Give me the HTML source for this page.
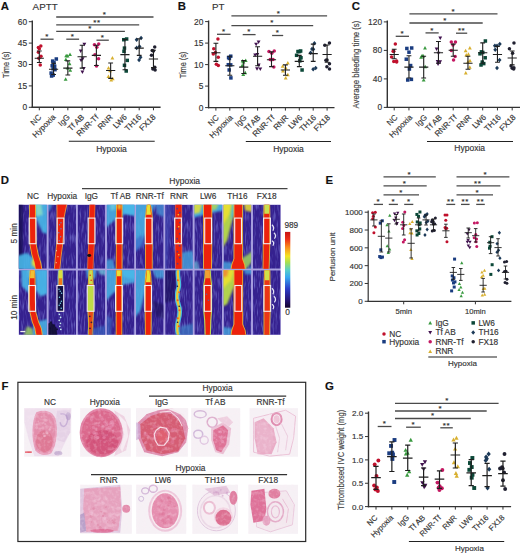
<!DOCTYPE html>
<html><head><meta charset="utf-8"><title>Figure</title>
<style>html,body{margin:0;padding:0;background:#fff;width:520px;height:554px;overflow:hidden}svg{display:block}text{stroke:#3a3a3a;stroke-width:0.16px}</style>
</head><body>
<svg width="520" height="554" viewBox="0 0 520 554" font-family='"Liberation Sans", sans-serif'>
<rect width="520" height="554" fill="#fff"/>
<text x="0.8" y="9.8" font-size="11.4" text-anchor="start" font-weight="bold" fill="#111" >A</text>
<text x="32.6" y="9.7" font-size="9.8" text-anchor="start" font-weight="normal" fill="#333" >APTT</text>
<path d="M32.3 20.5L32.3 108.0" stroke="#333" stroke-width="1.4"/>
<path d="M31.599999999999998 107.3L160.6 107.3" stroke="#333" stroke-width="1.4"/>
<path d="M28.799999999999997 107.3L32.3 107.3" stroke="#333" stroke-width="1"/>
<text x="27.099999999999998" y="110.2" font-size="8.4" text-anchor="end" font-weight="normal" fill="#333" >0</text>
<path d="M28.799999999999997 85.9L32.3 85.9" stroke="#333" stroke-width="1"/>
<text x="27.099999999999998" y="88.80000000000001" font-size="8.4" text-anchor="end" font-weight="normal" fill="#333" >15</text>
<path d="M28.799999999999997 64.5L32.3 64.5" stroke="#333" stroke-width="1"/>
<text x="27.099999999999998" y="67.4" font-size="8.4" text-anchor="end" font-weight="normal" fill="#333" >30</text>
<path d="M28.799999999999997 43.10000000000001L32.3 43.10000000000001" stroke="#333" stroke-width="1"/>
<text x="27.099999999999998" y="46.00000000000001" font-size="8.4" text-anchor="end" font-weight="normal" fill="#333" >45</text>
<path d="M28.799999999999997 21.700000000000003L32.3 21.700000000000003" stroke="#333" stroke-width="1"/>
<text x="27.099999999999998" y="24.6" font-size="8.4" text-anchor="end" font-weight="normal" fill="#333" >60</text>
<path d="M39.3 107.3L39.3 110.3" stroke="#333" stroke-width="1"/>
<path d="M53.56999999999999 107.3L53.56999999999999 110.3" stroke="#333" stroke-width="1"/>
<path d="M67.84 107.3L67.84 110.3" stroke="#333" stroke-width="1"/>
<path d="M82.11 107.3L82.11 110.3" stroke="#333" stroke-width="1"/>
<path d="M96.38 107.3L96.38 110.3" stroke="#333" stroke-width="1"/>
<path d="M110.64999999999999 107.3L110.64999999999999 110.3" stroke="#333" stroke-width="1"/>
<path d="M124.92 107.3L124.92 110.3" stroke="#333" stroke-width="1"/>
<path d="M139.19 107.3L139.19 110.3" stroke="#333" stroke-width="1"/>
<path d="M153.45999999999998 107.3L153.45999999999998 110.3" stroke="#333" stroke-width="1"/>
<text transform="translate(41.90,117.70) rotate(-45)" font-size="8" text-anchor="end" fill="#333">NC</text>
<text transform="translate(56.17,117.70) rotate(-45)" font-size="8" text-anchor="end" fill="#333">Hypoxia</text>
<text transform="translate(70.44,117.70) rotate(-45)" font-size="8" text-anchor="end" fill="#333">IgG</text>
<text transform="translate(84.71,117.70) rotate(-45)" font-size="8" text-anchor="end" fill="#333">Tf AB</text>
<text transform="translate(98.98,117.70) rotate(-45)" font-size="8" text-anchor="end" fill="#333">RNR-Tf</text>
<text transform="translate(113.25,117.70) rotate(-45)" font-size="8" text-anchor="end" fill="#333">RNR</text>
<text transform="translate(127.52,117.70) rotate(-45)" font-size="8" text-anchor="end" fill="#333">LW6</text>
<text transform="translate(141.79,117.70) rotate(-45)" font-size="8" text-anchor="end" fill="#333">TH16</text>
<text transform="translate(156.06,117.70) rotate(-45)" font-size="8" text-anchor="end" fill="#333">FX18</text>
<text transform="translate(9.3,64.7) rotate(-90)" font-size="9" text-anchor="middle" fill="#444" textLength="26.5" lengthAdjust="spacingAndGlyphs">Time (s)</text>
<path d="M56.2 17.0L153.5 17.0" stroke="#4a4a4a" stroke-width="1.3"/>
<text x="104.5" y="16.7" font-size="8" text-anchor="middle" fill="#222" letter-spacing="0.6">*</text>
<path d="M56.2 24.8L139.2 24.8" stroke="#4a4a4a" stroke-width="1.3"/>
<text x="97" y="24.5" font-size="8" text-anchor="middle" fill="#222" letter-spacing="0.6">**</text>
<path d="M56.2 31.3L124.9 31.3" stroke="#4a4a4a" stroke-width="1.3"/>
<text x="90" y="31.0" font-size="8" text-anchor="middle" fill="#222" letter-spacing="0.6">*</text>
<path d="M40.5 39.2L53.6 39.2" stroke="#4a4a4a" stroke-width="1.3"/>
<text x="47.05" y="38.900000000000006" font-size="8" text-anchor="middle" fill="#222" letter-spacing="0.6">*</text>
<path d="M66.3 39.2L79.1 39.2" stroke="#4a4a4a" stroke-width="1.3"/>
<text x="72.69999999999999" y="38.900000000000006" font-size="8" text-anchor="middle" fill="#222" letter-spacing="0.6">*</text>
<path d="M96.5 40.2L108.8 40.2" stroke="#4a4a4a" stroke-width="1.3"/>
<text x="102.65" y="39.900000000000006" font-size="8" text-anchor="middle" fill="#222" letter-spacing="0.6">*</text>
<circle cx="40.83" cy="46.00" r="1.75" fill="#c0102c"/>
<circle cx="38.38" cy="47.38" r="1.75" fill="#c0102c"/>
<circle cx="39.31" cy="48.87" r="1.75" fill="#c0102c"/>
<circle cx="38.43" cy="52.15" r="1.75" fill="#c0102c"/>
<circle cx="40.97" cy="56.18" r="1.75" fill="#c0102c"/>
<circle cx="38.78" cy="58.37" r="1.75" fill="#c0102c"/>
<circle cx="40.28" cy="65.00" r="1.75" fill="#c0102c"/>
<path d="M39.30 51.00V62.50M36.90 51.00H41.70M36.90 62.50H41.70M34.70 58.20H43.90" stroke="#1e1e1e" stroke-width="1.1" fill="none"/>
<rect x="54.57" y="57.25" width="3.50" height="3.50" fill="#1a3c80"/>
<rect x="50.93" y="59.35" width="3.50" height="3.50" fill="#1a3c80"/>
<rect x="52.25" y="61.05" width="3.50" height="3.50" fill="#1a3c80"/>
<rect x="50.44" y="63.99" width="3.50" height="3.50" fill="#1a3c80"/>
<rect x="52.91" y="64.47" width="3.50" height="3.50" fill="#1a3c80"/>
<rect x="51.36" y="67.06" width="3.50" height="3.50" fill="#1a3c80"/>
<rect x="53.24" y="67.92" width="3.50" height="3.50" fill="#1a3c80"/>
<rect x="49.39" y="71.31" width="3.50" height="3.50" fill="#1a3c80"/>
<rect x="51.44" y="73.36" width="3.50" height="3.50" fill="#1a3c80"/>
<rect x="49.86" y="74.25" width="3.50" height="3.50" fill="#1a3c80"/>
<path d="M53.57 63.20V74.50M51.17 63.20H55.97M51.17 74.50H55.97M48.97 69.20H58.17" stroke="#1e1e1e" stroke-width="1.1" fill="none"/>
<path d="M70.00 52.39L71.93 55.89L68.08 55.89Z" fill="#3a9a40"/>
<path d="M66.18 53.87L68.11 57.37L64.26 57.37Z" fill="#3a9a40"/>
<path d="M67.62 53.95L69.54 57.45L65.69 57.45Z" fill="#3a9a40"/>
<path d="M65.87 57.52L67.79 61.02L63.94 61.02Z" fill="#3a9a40"/>
<path d="M69.55 61.66L71.47 65.16L67.62 65.16Z" fill="#3a9a40"/>
<path d="M67.60 66.03L69.52 69.53L65.67 69.53Z" fill="#3a9a40"/>
<path d="M70.23 68.30L72.15 71.80L68.30 71.80Z" fill="#3a9a40"/>
<path d="M65.64 77.29L67.57 80.79L63.72 80.79Z" fill="#3a9a40"/>
<path d="M67.84 60.90V75.00M65.44 60.90H70.24M65.44 75.00H70.24M63.24 68.10H72.44" stroke="#1e1e1e" stroke-width="1.1" fill="none"/>
<path d="M84.37 46.31L86.29 42.81L82.44 42.81Z" fill="#40124e"/>
<path d="M80.73 53.05L82.66 49.55L78.81 49.55Z" fill="#40124e"/>
<path d="M82.69 60.81L84.61 57.31L80.76 57.31Z" fill="#40124e"/>
<path d="M81.07 62.17L83.00 58.67L79.15 58.67Z" fill="#40124e"/>
<path d="M83.75 70.47L85.67 66.97L81.82 66.97Z" fill="#40124e"/>
<path d="M82.42 73.91L84.34 70.41L80.49 70.41Z" fill="#40124e"/>
<path d="M82.11 45.30V68.10M79.71 45.30H84.51M79.71 68.10H84.51M77.51 56.80H86.71" stroke="#1e1e1e" stroke-width="1.1" fill="none"/>
<circle cx="98.71" cy="44.00" r="1.75" fill="#c41862"/>
<circle cx="94.43" cy="44.86" r="1.75" fill="#c41862"/>
<circle cx="96.83" cy="47.34" r="1.75" fill="#c41862"/>
<circle cx="94.95" cy="54.76" r="1.75" fill="#c41862"/>
<circle cx="98.57" cy="58.70" r="1.75" fill="#c41862"/>
<circle cx="96.49" cy="66.00" r="1.75" fill="#c41862"/>
<path d="M96.38 45.30V65.50M93.98 45.30H98.78M93.98 65.50H98.78M91.78 55.40H100.98" stroke="#1e1e1e" stroke-width="1.1" fill="none"/>
<path d="M112.40 55.99L114.32 59.49L110.47 59.49Z" fill="#d8b030"/>
<path d="M108.52 66.02L110.45 69.52L106.60 69.52Z" fill="#d8b030"/>
<path d="M110.12 68.75L112.05 72.25L108.20 72.25Z" fill="#d8b030"/>
<path d="M108.45 74.47L110.37 77.97L106.52 77.97Z" fill="#d8b030"/>
<path d="M112.74 76.77L114.67 80.27L110.82 80.27Z" fill="#d8b030"/>
<path d="M111.24 77.99L113.17 81.49L109.32 81.49Z" fill="#d8b030"/>
<path d="M110.65 63.00V78.40M108.25 63.00H113.05M108.25 78.40H113.05M106.05 70.50H115.25" stroke="#1e1e1e" stroke-width="1.1" fill="none"/>
<rect x="124.89" y="37.25" width="3.50" height="3.50" fill="#0c4838"/>
<rect x="122.03" y="37.97" width="3.50" height="3.50" fill="#0c4838"/>
<rect x="122.71" y="46.36" width="3.50" height="3.50" fill="#0c4838"/>
<rect x="122.25" y="49.60" width="3.50" height="3.50" fill="#0c4838"/>
<rect x="125.51" y="58.65" width="3.50" height="3.50" fill="#0c4838"/>
<rect x="122.73" y="63.55" width="3.50" height="3.50" fill="#0c4838"/>
<rect x="124.47" y="69.25" width="3.50" height="3.50" fill="#0c4838"/>
<path d="M124.92 39.50V69.80M122.52 39.50H127.32M122.52 69.80H127.32M120.32 54.60H129.52" stroke="#1e1e1e" stroke-width="1.1" fill="none"/>
<path d="M141.09 35.73L143.01 38.00L141.09 40.27L139.16 38.00Z" fill="#1c3a58"/>
<path d="M136.62 37.50L138.55 39.77L136.62 42.05L134.70 39.77Z" fill="#1c3a58"/>
<path d="M139.57 44.33L141.50 46.60L139.57 48.88L137.65 46.60Z" fill="#1c3a58"/>
<path d="M136.66 45.61L138.59 47.88L136.66 50.16L134.74 47.88Z" fill="#1c3a58"/>
<path d="M140.55 54.90L142.47 57.17L140.55 59.45L138.62 57.17Z" fill="#1c3a58"/>
<path d="M139.09 57.73L141.01 60.00L139.09 62.27L137.16 60.00Z" fill="#1c3a58"/>
<path d="M139.19 38.80V55.40M136.79 38.80H141.59M136.79 55.40H141.59M134.59 48.10H143.79" stroke="#1e1e1e" stroke-width="1.1" fill="none"/>
<circle cx="154.72" cy="47.00" r="1.75" fill="#202030"/>
<circle cx="152.19" cy="50.47" r="1.75" fill="#202030"/>
<circle cx="153.44" cy="51.05" r="1.75" fill="#202030"/>
<circle cx="151.48" cy="55.25" r="1.75" fill="#202030"/>
<circle cx="154.79" cy="67.34" r="1.75" fill="#202030"/>
<circle cx="152.86" cy="69.03" r="1.75" fill="#202030"/>
<circle cx="155.10" cy="70.00" r="1.75" fill="#202030"/>
<path d="M153.46 50.30V67.60M151.06 50.30H155.86M151.06 67.60H155.86M148.86 59.00H158.06" stroke="#1e1e1e" stroke-width="1.1" fill="none"/>
<path d="M68.8 141.3L154.7 141.3" stroke="#222" stroke-width="1.1"/>
<text x="111.5" y="151.8" font-size="8.5" text-anchor="middle" font-weight="normal" fill="#333" >Hypoxia</text>
<text x="177.8" y="9.6" font-size="11.4" text-anchor="start" font-weight="bold" fill="#111" >B</text>
<text x="212.0" y="9.7" font-size="9.8" text-anchor="start" font-weight="normal" fill="#333" >PT</text>
<path d="M208.6 20.5L208.6 108.3" stroke="#333" stroke-width="1.4"/>
<path d="M207.9 107.6L334.5 107.6" stroke="#333" stroke-width="1.4"/>
<path d="M205.1 107.6L208.6 107.6" stroke="#333" stroke-width="1"/>
<text x="203.4" y="110.5" font-size="8.4" text-anchor="end" font-weight="normal" fill="#333" >0</text>
<path d="M205.1 86.1L208.6 86.1" stroke="#333" stroke-width="1"/>
<text x="203.4" y="89.0" font-size="8.4" text-anchor="end" font-weight="normal" fill="#333" >5</text>
<path d="M205.1 64.6L208.6 64.6" stroke="#333" stroke-width="1"/>
<text x="203.4" y="67.5" font-size="8.4" text-anchor="end" font-weight="normal" fill="#333" >10</text>
<path d="M205.1 43.099999999999994L208.6 43.099999999999994" stroke="#333" stroke-width="1"/>
<text x="203.4" y="45.99999999999999" font-size="8.4" text-anchor="end" font-weight="normal" fill="#333" >15</text>
<path d="M205.1 21.599999999999994L208.6 21.599999999999994" stroke="#333" stroke-width="1"/>
<text x="203.4" y="24.499999999999993" font-size="8.4" text-anchor="end" font-weight="normal" fill="#333" >20</text>
<path d="M215.9 107.6L215.9 110.6" stroke="#333" stroke-width="1"/>
<path d="M229.8 107.6L229.8 110.6" stroke="#333" stroke-width="1"/>
<path d="M243.70000000000002 107.6L243.70000000000002 110.6" stroke="#333" stroke-width="1"/>
<path d="M257.6 107.6L257.6 110.6" stroke="#333" stroke-width="1"/>
<path d="M271.5 107.6L271.5 110.6" stroke="#333" stroke-width="1"/>
<path d="M285.4 107.6L285.4 110.6" stroke="#333" stroke-width="1"/>
<path d="M299.3 107.6L299.3 110.6" stroke="#333" stroke-width="1"/>
<path d="M313.2 107.6L313.2 110.6" stroke="#333" stroke-width="1"/>
<path d="M327.1 107.6L327.1 110.6" stroke="#333" stroke-width="1"/>
<text transform="translate(219.40,118.20) rotate(-45)" font-size="8" text-anchor="end" fill="#333">NC</text>
<text transform="translate(233.30,118.20) rotate(-45)" font-size="8" text-anchor="end" fill="#333">Hypoxia</text>
<text transform="translate(247.20,118.20) rotate(-45)" font-size="8" text-anchor="end" fill="#333">IgG</text>
<text transform="translate(261.10,118.20) rotate(-45)" font-size="8" text-anchor="end" fill="#333">Tf AB</text>
<text transform="translate(275.00,118.20) rotate(-45)" font-size="8" text-anchor="end" fill="#333">RNR-Tf</text>
<text transform="translate(288.90,118.20) rotate(-45)" font-size="8" text-anchor="end" fill="#333">RNR</text>
<text transform="translate(302.80,118.20) rotate(-45)" font-size="8" text-anchor="end" fill="#333">LW6</text>
<text transform="translate(316.70,118.20) rotate(-45)" font-size="8" text-anchor="end" fill="#333">TH16</text>
<text transform="translate(330.60,118.20) rotate(-45)" font-size="8" text-anchor="end" fill="#333">FX18</text>
<text transform="translate(186.3,65) rotate(-90)" font-size="9" text-anchor="middle" fill="#444" textLength="26.5" lengthAdjust="spacingAndGlyphs">Time (s)</text>
<path d="M231.4 15.9L327.1 15.9" stroke="#4a4a4a" stroke-width="1.3"/>
<text x="278.5" y="15.6" font-size="8" text-anchor="middle" fill="#222" letter-spacing="0.6">*</text>
<path d="M231.4 25.6L313.2 25.6" stroke="#4a4a4a" stroke-width="1.3"/>
<text x="272.1" y="25.3" font-size="8" text-anchor="middle" fill="#222" letter-spacing="0.6">*</text>
<path d="M217 34.3L230.6 34.3" stroke="#4a4a4a" stroke-width="1.3"/>
<text x="223.8" y="34.0" font-size="8" text-anchor="middle" fill="#222" letter-spacing="0.6">*</text>
<path d="M242.7 34.6L255.6 34.6" stroke="#4a4a4a" stroke-width="1.3"/>
<text x="249.14999999999998" y="34.300000000000004" font-size="8" text-anchor="middle" fill="#222" letter-spacing="0.6">*</text>
<path d="M272.1 35.5L283.2 35.5" stroke="#4a4a4a" stroke-width="1.3"/>
<text x="277.65" y="35.2" font-size="8" text-anchor="middle" fill="#222" letter-spacing="0.6">*</text>
<circle cx="217.94" cy="38.90" r="1.75" fill="#c0102c"/>
<circle cx="213.75" cy="48.69" r="1.75" fill="#c0102c"/>
<circle cx="215.36" cy="52.56" r="1.75" fill="#c0102c"/>
<circle cx="213.30" cy="53.91" r="1.75" fill="#c0102c"/>
<circle cx="218.26" cy="57.20" r="1.75" fill="#c0102c"/>
<circle cx="216.35" cy="64.16" r="1.75" fill="#c0102c"/>
<circle cx="218.30" cy="65.40" r="1.75" fill="#c0102c"/>
<path d="M215.90 43.30V61.40M213.50 43.30H218.30M213.50 61.40H218.30M211.30 52.80H220.50" stroke="#1e1e1e" stroke-width="1.1" fill="none"/>
<rect x="228.98" y="54.45" width="3.50" height="3.50" fill="#1a3c80"/>
<rect x="226.83" y="55.80" width="3.50" height="3.50" fill="#1a3c80"/>
<rect x="227.64" y="56.70" width="3.50" height="3.50" fill="#1a3c80"/>
<rect x="226.57" y="62.96" width="3.50" height="3.50" fill="#1a3c80"/>
<rect x="228.96" y="63.11" width="3.50" height="3.50" fill="#1a3c80"/>
<rect x="227.45" y="68.21" width="3.50" height="3.50" fill="#1a3c80"/>
<rect x="229.15" y="76.15" width="3.50" height="3.50" fill="#1a3c80"/>
<path d="M229.80 56.20V75.30M227.40 56.20H232.20M227.40 75.30H232.20M225.20 65.70H234.40" stroke="#1e1e1e" stroke-width="1.1" fill="none"/>
<path d="M245.73 58.59L247.65 62.09L243.80 62.09Z" fill="#3a9a40"/>
<path d="M242.60 58.94L244.53 62.44L240.68 62.44Z" fill="#3a9a40"/>
<path d="M243.40 59.99L245.33 63.49L241.48 63.49Z" fill="#3a9a40"/>
<path d="M242.21 63.61L244.13 67.11L240.28 67.11Z" fill="#3a9a40"/>
<path d="M245.23 70.65L247.15 74.15L243.30 74.15Z" fill="#3a9a40"/>
<path d="M243.25 72.39L245.17 75.89L241.32 75.89Z" fill="#3a9a40"/>
<path d="M243.70 60.60V73.50M241.30 60.60H246.10M241.30 73.50H246.10M239.10 67.10H248.30" stroke="#1e1e1e" stroke-width="1.1" fill="none"/>
<path d="M258.60 44.01L260.53 40.51L256.68 40.51Z" fill="#40124e"/>
<path d="M256.11 46.33L258.04 42.83L254.19 42.83Z" fill="#40124e"/>
<path d="M257.32 56.59L259.24 53.09L255.39 53.09Z" fill="#40124e"/>
<path d="M255.14 57.08L257.07 53.58L253.22 53.58Z" fill="#40124e"/>
<path d="M258.72 66.93L260.65 63.43L256.80 63.43Z" fill="#40124e"/>
<path d="M257.03 70.83L258.95 67.33L255.10 67.33Z" fill="#40124e"/>
<path d="M260.30 71.01L262.23 67.51L258.38 67.51Z" fill="#40124e"/>
<path d="M257.60 46.70V65.70M255.20 46.70H260.00M255.20 65.70H260.00M253.00 56.20H262.20" stroke="#1e1e1e" stroke-width="1.1" fill="none"/>
<circle cx="274.26" cy="51.00" r="1.75" fill="#c41862"/>
<circle cx="268.97" cy="51.43" r="1.75" fill="#c41862"/>
<circle cx="271.74" cy="53.35" r="1.75" fill="#c41862"/>
<circle cx="270.18" cy="59.45" r="1.75" fill="#c41862"/>
<circle cx="273.03" cy="59.45" r="1.75" fill="#c41862"/>
<circle cx="271.10" cy="59.69" r="1.75" fill="#c41862"/>
<circle cx="273.84" cy="67.00" r="1.75" fill="#c41862"/>
<path d="M271.50 51.90V66.60M269.10 51.90H273.90M269.10 66.60H273.90M266.90 59.70H276.10" stroke="#1e1e1e" stroke-width="1.1" fill="none"/>
<path d="M287.82 60.99L289.75 64.49L285.90 64.49Z" fill="#d8b030"/>
<path d="M282.63 64.33L284.56 67.83L280.71 67.83Z" fill="#d8b030"/>
<path d="M285.82 65.93L287.75 69.43L283.90 69.43Z" fill="#d8b030"/>
<path d="M282.99 68.98L284.91 72.48L281.06 72.48Z" fill="#d8b030"/>
<path d="M287.84 72.67L289.76 76.17L285.91 76.17Z" fill="#d8b030"/>
<path d="M285.69 75.99L287.61 79.49L283.76 79.49Z" fill="#d8b030"/>
<path d="M285.40 64.90V75.30M283.00 64.90H287.80M283.00 75.30H287.80M280.80 70.00H290.00" stroke="#1e1e1e" stroke-width="1.1" fill="none"/>
<rect x="298.91" y="49.25" width="3.50" height="3.50" fill="#0c4838"/>
<rect x="296.23" y="49.78" width="3.50" height="3.50" fill="#0c4838"/>
<rect x="297.78" y="49.80" width="3.50" height="3.50" fill="#0c4838"/>
<rect x="294.84" y="53.56" width="3.50" height="3.50" fill="#0c4838"/>
<rect x="299.24" y="56.01" width="3.50" height="3.50" fill="#0c4838"/>
<rect x="298.07" y="59.09" width="3.50" height="3.50" fill="#0c4838"/>
<rect x="300.33" y="68.25" width="3.50" height="3.50" fill="#0c4838"/>
<path d="M299.30 55.40V66.60M296.90 55.40H301.70M296.90 66.60H301.70M294.70 61.40H303.90" stroke="#1e1e1e" stroke-width="1.1" fill="none"/>
<path d="M314.39 41.02L316.32 43.30L314.39 45.57L312.47 43.30Z" fill="#1c3a58"/>
<path d="M311.99 46.73L313.92 49.01L311.99 51.28L310.07 49.01Z" fill="#1c3a58"/>
<path d="M313.35 46.90L315.27 49.18L313.35 51.45L311.42 49.18Z" fill="#1c3a58"/>
<path d="M310.60 50.47L312.52 52.74L310.60 55.02L308.67 52.74Z" fill="#1c3a58"/>
<path d="M315.68 65.76L317.61 68.03L315.68 70.31L313.76 68.03Z" fill="#1c3a58"/>
<path d="M313.18 66.92L315.10 69.20L313.18 71.48L311.25 69.20Z" fill="#1c3a58"/>
<path d="M313.20 44.10V61.40M310.80 44.10H315.60M310.80 61.40H315.60M308.60 53.60H317.80" stroke="#1e1e1e" stroke-width="1.1" fill="none"/>
<circle cx="329.46" cy="43.00" r="1.75" fill="#202030"/>
<circle cx="324.80" cy="45.20" r="1.75" fill="#202030"/>
<circle cx="327.07" cy="59.98" r="1.75" fill="#202030"/>
<circle cx="325.94" cy="60.18" r="1.75" fill="#202030"/>
<circle cx="329.48" cy="63.79" r="1.75" fill="#202030"/>
<circle cx="326.90" cy="66.65" r="1.75" fill="#202030"/>
<circle cx="329.50" cy="69.00" r="1.75" fill="#202030"/>
<path d="M327.10 45.00V62.30M324.70 45.00H329.50M324.70 62.30H329.50M322.50 54.50H331.70" stroke="#1e1e1e" stroke-width="1.1" fill="none"/>
<path d="M245.8 141.5L331 141.5" stroke="#222" stroke-width="1.1"/>
<text x="288.5" y="151.8" font-size="8.5" text-anchor="middle" font-weight="normal" fill="#333" >Hypoxia</text>
<text x="351.8" y="9.6" font-size="11.4" text-anchor="start" font-weight="bold" fill="#111" >C</text>
<path d="M387.3 20.5L387.3 108.10000000000001" stroke="#333" stroke-width="1.4"/>
<path d="M386.6 107.4L520 107.4" stroke="#333" stroke-width="1.4"/>
<path d="M383.8 107.4L387.3 107.4" stroke="#333" stroke-width="1"/>
<text x="382.1" y="110.30000000000001" font-size="8.4" text-anchor="end" font-weight="normal" fill="#333" >0</text>
<path d="M383.8 78.9L387.3 78.9" stroke="#333" stroke-width="1"/>
<text x="382.1" y="81.80000000000001" font-size="8.4" text-anchor="end" font-weight="normal" fill="#333" >40</text>
<path d="M383.8 50.400000000000006L387.3 50.400000000000006" stroke="#333" stroke-width="1"/>
<text x="382.1" y="53.300000000000004" font-size="8.4" text-anchor="end" font-weight="normal" fill="#333" >80</text>
<path d="M383.8 21.900000000000006L387.3 21.900000000000006" stroke="#333" stroke-width="1"/>
<text x="382.1" y="24.800000000000004" font-size="8.4" text-anchor="end" font-weight="normal" fill="#333" >120</text>
<path d="M394.2 107.4L394.2 110.4" stroke="#333" stroke-width="1"/>
<path d="M408.95 107.4L408.95 110.4" stroke="#333" stroke-width="1"/>
<path d="M423.7 107.4L423.7 110.4" stroke="#333" stroke-width="1"/>
<path d="M438.45 107.4L438.45 110.4" stroke="#333" stroke-width="1"/>
<path d="M453.2 107.4L453.2 110.4" stroke="#333" stroke-width="1"/>
<path d="M467.95 107.4L467.95 110.4" stroke="#333" stroke-width="1"/>
<path d="M482.7 107.4L482.7 110.4" stroke="#333" stroke-width="1"/>
<path d="M497.45 107.4L497.45 110.4" stroke="#333" stroke-width="1"/>
<path d="M512.2 107.4L512.2 110.4" stroke="#333" stroke-width="1"/>
<text transform="translate(398.20,117.90) rotate(-45)" font-size="8" text-anchor="end" fill="#333">NC</text>
<text transform="translate(412.95,117.90) rotate(-45)" font-size="8" text-anchor="end" fill="#333">Hypoxia</text>
<text transform="translate(427.70,117.90) rotate(-45)" font-size="8" text-anchor="end" fill="#333">IgG</text>
<text transform="translate(442.45,117.90) rotate(-45)" font-size="8" text-anchor="end" fill="#333">Tf AB</text>
<text transform="translate(457.20,117.90) rotate(-45)" font-size="8" text-anchor="end" fill="#333">RNR-Tf</text>
<text transform="translate(471.95,117.90) rotate(-45)" font-size="8" text-anchor="end" fill="#333">RNR</text>
<text transform="translate(486.70,117.90) rotate(-45)" font-size="8" text-anchor="end" fill="#333">LW6</text>
<text transform="translate(501.45,117.90) rotate(-45)" font-size="8" text-anchor="end" fill="#333">TH16</text>
<text transform="translate(516.20,117.90) rotate(-45)" font-size="8" text-anchor="end" fill="#333">FX18</text>
<text transform="translate(358.5,64.6) rotate(-90)" font-size="9" text-anchor="middle" fill="#444" textLength="87.6" lengthAdjust="spacingAndGlyphs">Average bleeding time (s)</text>
<path d="M409.4 13.8L497.5 13.8" stroke="#4a4a4a" stroke-width="1.3"/>
<text x="453.4" y="13.5" font-size="8" text-anchor="middle" fill="#222" letter-spacing="0.6">*</text>
<path d="M409.4 23.0L482.7 23.0" stroke="#4a4a4a" stroke-width="1.3"/>
<text x="445.2" y="22.7" font-size="8" text-anchor="middle" fill="#222" letter-spacing="0.6">*</text>
<path d="M395.7 36.3L409 36.3" stroke="#4a4a4a" stroke-width="1.3"/>
<text x="402.35" y="36.0" font-size="8" text-anchor="middle" fill="#222" letter-spacing="0.6">*</text>
<path d="M425.5 32.9L438.7 32.9" stroke="#4a4a4a" stroke-width="1.3"/>
<text x="432.1" y="32.6" font-size="8" text-anchor="middle" fill="#222" letter-spacing="0.6">*</text>
<path d="M456 33.2L467.2 33.2" stroke="#4a4a4a" stroke-width="1.3"/>
<text x="461.6" y="32.900000000000006" font-size="8" text-anchor="middle" fill="#222" letter-spacing="0.6">**</text>
<circle cx="395.34" cy="44.00" r="1.75" fill="#c0102c"/>
<circle cx="393.15" cy="51.13" r="1.75" fill="#c0102c"/>
<circle cx="393.78" cy="51.22" r="1.75" fill="#c0102c"/>
<circle cx="391.59" cy="57.05" r="1.75" fill="#c0102c"/>
<circle cx="396.61" cy="61.04" r="1.75" fill="#c0102c"/>
<circle cx="393.78" cy="61.49" r="1.75" fill="#c0102c"/>
<circle cx="396.65" cy="62.00" r="1.75" fill="#c0102c"/>
<path d="M394.20 49.30V58.80M391.80 49.30H396.60M391.80 58.80H396.60M389.60 54.50H398.80" stroke="#1e1e1e" stroke-width="1.1" fill="none"/>
<rect x="409.94" y="46.25" width="3.50" height="3.50" fill="#1a3c80"/>
<rect x="405.10" y="46.71" width="3.50" height="3.50" fill="#1a3c80"/>
<rect x="407.23" y="50.44" width="3.50" height="3.50" fill="#1a3c80"/>
<rect x="404.53" y="57.46" width="3.50" height="3.50" fill="#1a3c80"/>
<rect x="408.87" y="63.81" width="3.50" height="3.50" fill="#1a3c80"/>
<rect x="407.65" y="67.28" width="3.50" height="3.50" fill="#1a3c80"/>
<rect x="409.65" y="77.62" width="3.50" height="3.50" fill="#1a3c80"/>
<rect x="405.98" y="78.25" width="3.50" height="3.50" fill="#1a3c80"/>
<path d="M408.95 55.70V78.00M406.55 55.70H411.35M406.55 78.00H411.35M404.35 67.10H413.55" stroke="#1e1e1e" stroke-width="1.1" fill="none"/>
<path d="M425.02 45.99L426.94 49.49L423.09 49.49Z" fill="#3a9a40"/>
<path d="M422.06 53.68L423.99 57.18L420.14 57.18Z" fill="#3a9a40"/>
<path d="M423.26 54.05L425.18 57.55L421.33 57.55Z" fill="#3a9a40"/>
<path d="M421.08 55.36L423.00 58.86L419.15 58.86Z" fill="#3a9a40"/>
<path d="M425.21 64.75L427.13 68.25L423.28 68.25Z" fill="#3a9a40"/>
<path d="M423.65 77.99L425.57 81.49L421.72 81.49Z" fill="#3a9a40"/>
<path d="M423.70 56.20V78.00M421.30 56.20H426.10M421.30 78.00H426.10M419.10 67.10H428.30" stroke="#1e1e1e" stroke-width="1.1" fill="none"/>
<path d="M440.25 40.01L442.18 36.51L438.33 36.51Z" fill="#40124e"/>
<path d="M436.59 50.95L438.51 47.45L434.66 47.45Z" fill="#40124e"/>
<path d="M438.48 55.18L440.40 51.68L436.55 51.68Z" fill="#40124e"/>
<path d="M437.61 63.52L439.54 60.02L435.69 60.02Z" fill="#40124e"/>
<path d="M440.13 63.87L442.06 60.37L438.21 60.37Z" fill="#40124e"/>
<path d="M438.07 66.01L439.99 62.51L436.14 62.51Z" fill="#40124e"/>
<path d="M438.45 41.50V63.20M436.05 41.50H440.85M436.05 63.20H440.85M433.85 52.80H443.05" stroke="#1e1e1e" stroke-width="1.1" fill="none"/>
<circle cx="455.45" cy="42.00" r="1.75" fill="#c41862"/>
<circle cx="451.29" cy="42.07" r="1.75" fill="#c41862"/>
<circle cx="452.99" cy="45.10" r="1.75" fill="#c41862"/>
<circle cx="451.36" cy="50.52" r="1.75" fill="#c41862"/>
<circle cx="455.11" cy="56.39" r="1.75" fill="#c41862"/>
<circle cx="453.54" cy="60.00" r="1.75" fill="#c41862"/>
<path d="M453.20 44.10V56.20M450.80 44.10H455.60M450.80 56.20H455.60M448.60 50.20H457.80" stroke="#1e1e1e" stroke-width="1.1" fill="none"/>
<path d="M469.87 45.99L471.80 49.49L467.95 49.49Z" fill="#d8b030"/>
<path d="M465.63 48.64L467.56 52.14L463.71 52.14Z" fill="#d8b030"/>
<path d="M468.44 52.20L470.37 55.70L466.52 55.70Z" fill="#d8b030"/>
<path d="M466.26 52.91L468.19 56.41L464.34 56.41Z" fill="#d8b030"/>
<path d="M469.98 58.68L471.90 62.18L468.05 62.18Z" fill="#d8b030"/>
<path d="M467.96 59.99L469.88 63.49L466.03 63.49Z" fill="#d8b030"/>
<path d="M469.77 65.29L471.70 68.79L467.85 68.79Z" fill="#d8b030"/>
<path d="M465.76 70.99L467.69 74.49L463.84 74.49Z" fill="#d8b030"/>
<path d="M467.95 56.20V69.20M465.55 56.20H470.35M465.55 69.20H470.35M463.35 63.20H472.55" stroke="#1e1e1e" stroke-width="1.1" fill="none"/>
<rect x="483.63" y="39.25" width="3.50" height="3.50" fill="#0c4838"/>
<rect x="479.63" y="50.11" width="3.50" height="3.50" fill="#0c4838"/>
<rect x="481.02" y="50.72" width="3.50" height="3.50" fill="#0c4838"/>
<rect x="478.26" y="52.05" width="3.50" height="3.50" fill="#0c4838"/>
<rect x="483.43" y="56.03" width="3.50" height="3.50" fill="#0c4838"/>
<rect x="480.51" y="60.29" width="3.50" height="3.50" fill="#0c4838"/>
<rect x="481.99" y="61.85" width="3.50" height="3.50" fill="#0c4838"/>
<rect x="479.27" y="63.25" width="3.50" height="3.50" fill="#0c4838"/>
<path d="M482.70 42.90V63.20M480.30 42.90H485.10M480.30 63.20H485.10M478.10 52.80H487.30" stroke="#1e1e1e" stroke-width="1.1" fill="none"/>
<path d="M499.82 41.73L501.74 44.00L499.82 46.27L497.89 44.00Z" fill="#1c3a58"/>
<path d="M494.86 43.47L496.78 45.74L494.86 48.02L492.93 45.74Z" fill="#1c3a58"/>
<path d="M497.04 43.48L498.96 45.75L497.04 48.03L495.11 45.75Z" fill="#1c3a58"/>
<path d="M495.22 47.50L497.14 49.78L495.22 52.05L493.29 49.78Z" fill="#1c3a58"/>
<path d="M499.57 57.79L501.50 60.07L499.57 62.34L497.65 60.07Z" fill="#1c3a58"/>
<path d="M497.02 65.72L498.95 68.00L497.02 70.28L495.10 68.00Z" fill="#1c3a58"/>
<path d="M497.45 46.40V62.30M495.05 46.40H499.85M495.05 62.30H499.85M492.85 54.50H502.05" stroke="#1e1e1e" stroke-width="1.1" fill="none"/>
<circle cx="513.97" cy="43.00" r="1.75" fill="#202030"/>
<circle cx="509.42" cy="48.71" r="1.75" fill="#202030"/>
<circle cx="512.60" cy="53.35" r="1.75" fill="#202030"/>
<circle cx="511.08" cy="65.95" r="1.75" fill="#202030"/>
<circle cx="513.86" cy="67.77" r="1.75" fill="#202030"/>
<circle cx="512.22" cy="68.16" r="1.75" fill="#202030"/>
<circle cx="513.68" cy="69.00" r="1.75" fill="#202030"/>
<path d="M512.20 51.00V64.90M509.80 51.00H514.60M509.80 64.90H514.60M507.60 58.00H516.80" stroke="#1e1e1e" stroke-width="1.1" fill="none"/>
<path d="M427 141.5L513 141.5" stroke="#222" stroke-width="1.1"/>
<text x="469.7" y="151.4" font-size="8.5" text-anchor="middle" font-weight="normal" fill="#333" >Hypoxia</text>
<text x="0.7" y="183.6" font-size="11.4" text-anchor="start" font-weight="bold" fill="#111" >D</text>
<text x="184.7" y="184.2" font-size="8.5" text-anchor="middle" font-weight="normal" fill="#333" >Hypoxia</text>
<path d="M82.0 188.7L287.5 188.7" stroke="#444" stroke-width="1.3"/>
<text x="33.0" y="199.2" font-size="8.3" text-anchor="middle" font-weight="normal" fill="#333" >NC</text>
<text x="62.2" y="199.2" font-size="8.3" text-anchor="middle" font-weight="normal" fill="#333" >Hypoxia</text>
<text x="91.39999999999999" y="199.2" font-size="8.3" text-anchor="middle" font-weight="normal" fill="#333" >IgG</text>
<text x="120.59999999999998" y="199.2" font-size="8.3" text-anchor="middle" font-weight="normal" fill="#333" >Tf AB</text>
<text x="149.79999999999998" y="199.2" font-size="8.3" text-anchor="middle" font-weight="normal" fill="#333" >RNR-Tf</text>
<text x="179.0" y="199.2" font-size="8.3" text-anchor="middle" font-weight="normal" fill="#333" >RNR</text>
<text x="208.2" y="199.2" font-size="8.3" text-anchor="middle" font-weight="normal" fill="#333" >LW6</text>
<text x="237.4" y="199.2" font-size="8.3" text-anchor="middle" font-weight="normal" fill="#333" >TH16</text>
<text x="266.6" y="199.2" font-size="8.3" text-anchor="middle" font-weight="normal" fill="#333" >FX18</text>
<text transform="translate(17.4,233.4) rotate(-90)" font-size="8.3" text-anchor="middle" fill="#333">5 min</text>
<text transform="translate(17.4,307.4) rotate(-90)" font-size="8.3" text-anchor="middle" fill="#333">10 min</text>
<defs>
<filter id="b1" x="-50%" y="-50%" width="200%" height="200%"><feGaussianBlur stdDeviation="1.2"/></filter>
<filter id="b2" x="-50%" y="-50%" width="200%" height="200%"><feGaussianBlur stdDeviation="1.6"/></filter>
<filter id="b05" x="-50%" y="-50%" width="200%" height="200%"><feGaussianBlur stdDeviation="0.6"/></filter>
<filter id="b03" x="-50%" y="-50%" width="200%" height="200%"><feGaussianBlur stdDeviation="0.35"/></filter>
<filter id="nz0" x="0" y="0" width="1" height="1"><feTurbulence type="fractalNoise" baseFrequency="0.7 0.09" numOctaves="2" seed="3"/><feColorMatrix type="matrix" values="0 0 0 0 0.30  0 0 0 0 0.34  0 0 0 0 0.86  1.2 0 0 0 -0.56"/></filter><filter id="nz1" x="0" y="0" width="1" height="1"><feTurbulence type="fractalNoise" baseFrequency="0.7 0.09" numOctaves="2" seed="11"/><feColorMatrix type="matrix" values="0 0 0 0 0.30  0 0 0 0 0.34  0 0 0 0 0.86  1.2 0 0 0 -0.56"/></filter><filter id="nz2" x="0" y="0" width="1" height="1"><feTurbulence type="fractalNoise" baseFrequency="0.7 0.09" numOctaves="2" seed="23"/><feColorMatrix type="matrix" values="0 0 0 0 0.30  0 0 0 0 0.34  0 0 0 0 0.86  1.2 0 0 0 -0.56"/></filter><filter id="nz3" x="0" y="0" width="1" height="1"><feTurbulence type="fractalNoise" baseFrequency="0.7 0.09" numOctaves="2" seed="37"/><feColorMatrix type="matrix" values="0 0 0 0 0.30  0 0 0 0 0.34  0 0 0 0 0.86  1.2 0 0 0 -0.56"/></filter>
<linearGradient id="jet" x1="0" y1="1" x2="0" y2="0">
<stop offset="0" stop-color="#14062e"/><stop offset="0.1" stop-color="#261476"/><stop offset="0.25" stop-color="#2c3cc8"/>
<stop offset="0.4" stop-color="#38a8f0"/><stop offset="0.5" stop-color="#58d0c8"/><stop offset="0.6" stop-color="#a8e050"/><stop offset="0.68" stop-color="#f4e424"/>
<stop offset="0.8" stop-color="#f88a1c"/><stop offset="0.9" stop-color="#ec3018"/><stop offset="1" stop-color="#c81414"/>
</linearGradient>
</defs>
<rect x="18.8" y="204.7" width="261.8" height="130.1" fill="#aaa2e0"/>
<clipPath id="c00"><rect x="18.80" y="204.70" width="28.00" height="64.00"/></clipPath>
<g clip-path="url(#c00)"><rect x="18.80" y="204.70" width="28.00" height="64.00" fill="#35218f"/>
<rect x="18.80" y="204.70" width="28.00" height="64.00" filter="url(#nz0)"/>
<g transform="translate(18.80,204.70)">
<path d="M-4 -4L4.0 -4L4.0 68L-4 68Z" fill="#180c50" opacity="0.8" filter="url(#b1)"/>
<path d="M15.0 -4L33 -4L33 30.0L24.0 28.0L17.0 14.0Z" fill="#48b8e8" opacity="0.9" filter="url(#b1)"/>
<path d="M16.0 -4L22.0 -4L24.0 10.0L17.0 12.0Z" fill="#90e0c0" opacity="0.8" filter="url(#b1)"/>
<path d="M-4 52.0L8.0 48.0L16.0 54.0L20.0 68L-4 68Z" fill="#48b8e8" opacity="0.9" filter="url(#b1)"/>
<ellipse cx="16" cy="58" rx="3" ry="4" fill="#e8e030" opacity="0.9" filter="url(#b1)"/>
<path d="M10.30 -3.00 10.30 20.00 10.70 40.00 12.60 50.00 15.10 58.00 16.60 67.00 23.90 67.00 22.40 58.00 19.90 50.00 17.90 40.00 17.30 20.00 17.10 -3.00Z" fill="#f0b830" opacity="0.95" filter="url(#b05)"/><path d="M11.20 -3.00 11.20 20.00 11.60 40.00 13.50 50.00 16.00 58.00 17.50 67.00 23.00 67.00 21.50 58.00 19.00 50.00 17.00 40.00 16.40 20.00 16.20 -3.00Z" fill="#ec2410" filter="url(#b03)"/>
<rect x="10.40" y="13.4" width="6.8" height="25.6" fill="none" stroke="#f4eef2" stroke-width="1.1"/>
</g></g>
<clipPath id="c10"><rect x="48.40" y="204.70" width="27.60" height="64.00"/></clipPath>
<g clip-path="url(#c10)"><rect x="48.40" y="204.70" width="27.60" height="64.00" fill="#35218f"/>
<rect x="48.40" y="204.70" width="27.60" height="64.00" filter="url(#nz2)"/>
<g transform="translate(48.00,204.70)">
<path d="M-4 -4L6.0 -4L2.0 6.0L-4 6.0Z" fill="#48b8e8" opacity="0.6" filter="url(#b1)"/>
<path d="M8.40 -3.00 8.50 6.00 8.50 14.00 8.50 30.00 8.10 40.00 6.90 52.00 5.70 67.00 12.10 67.00 13.50 52.00 15.10 40.00 15.90 30.00 16.30 14.00 17.90 6.00 19.90 -3.00Z" fill="#f0a040" opacity="0.95" filter="url(#b05)"/><path d="M9.30 -3.00 9.40 6.00 9.40 14.00 9.40 30.00 9.00 40.00 7.80 52.00 6.60 67.00 11.20 67.00 12.60 52.00 14.20 40.00 15.00 30.00 15.40 14.00 17.00 6.00 19.00 -3.00Z" fill="#ec2410" filter="url(#b03)"/>
<circle cx="11.5" cy="20" r="0.7" fill="#6a80c8" opacity="1"/><circle cx="13" cy="24" r="0.7" fill="#6a80c8" opacity="1"/><circle cx="10.8" cy="28" r="0.7" fill="#6a80c8" opacity="1"/><circle cx="12.6" cy="32" r="0.7" fill="#6a80c8" opacity="1"/><circle cx="11.2" cy="36" r="0.7" fill="#6a80c8" opacity="1"/><circle cx="13" cy="18" r="0.7" fill="#6a80c8" opacity="1"/>
<circle cx="8.5" cy="46" r="0.6" fill="#f0d8b0" opacity="1"/><circle cx="10" cy="52" r="0.6" fill="#f0d8b0" opacity="1"/><circle cx="8.2" cy="58" r="0.6" fill="#f0d8b0" opacity="1"/>
<rect x="9.15" y="13.4" width="6.8" height="25.6" fill="none" stroke="#f4eef2" stroke-width="1.1"/>
</g></g>
<clipPath id="c20"><rect x="77.60" y="204.70" width="27.60" height="64.00"/></clipPath>
<g clip-path="url(#c20)"><rect x="77.60" y="204.70" width="27.60" height="64.00" fill="#35218f"/>
<rect x="77.60" y="204.70" width="27.60" height="64.00" filter="url(#nz0)"/>
<g transform="translate(77.20,204.70)">
<path d="M12.20 -3.00 11.60 14.00 11.00 39.00 10.30 52.00 9.80 67.00 16.20 67.00 16.70 52.00 17.60 39.00 17.80 14.00 18.30 -3.00Z" fill="#f07030" opacity="0.95" filter="url(#b05)"/><path d="M13.10 -3.00 12.50 14.00 11.90 39.00 11.20 52.00 10.70 67.00 15.30 67.00 15.80 52.00 16.70 39.00 16.90 14.00 17.40 -3.00Z" fill="#ec2410" filter="url(#b03)"/>
<ellipse cx="12" cy="50.8" rx="2" ry="1.4" fill="#101018"/>
<rect x="11.00" y="13.4" width="6.8" height="25.6" fill="none" stroke="#f4eef2" stroke-width="1.1"/>
</g></g>
<clipPath id="c30"><rect x="106.80" y="204.70" width="27.60" height="64.00"/></clipPath>
<g clip-path="url(#c30)"><rect x="106.80" y="204.70" width="27.60" height="64.00" fill="#35218f"/>
<rect x="106.80" y="204.70" width="27.60" height="64.00" filter="url(#nz2)"/>
<g transform="translate(106.40,204.70)">
<path d="M-4 -4L33 -4L33 10.0L20.0 9.0L10.0 14.0L-4 26.0Z" fill="#48b8e8" opacity="0.85" filter="url(#b1)"/>
<path d="M16.0 -4L33 -4L33 12.0L22.0 10.0L17.0 8.0Z" fill="#48b8e8" opacity="0.9" filter="url(#b1)"/>
<path d="M3.0 -4L10.0 -4L9.0 5.0L4.0 6.0Z" fill="#70d0e0" opacity="0.7" filter="url(#b1)"/>
<path d="M-4 56.0L6.0 54.0L10.0 68L-4 68Z" fill="#48b8e8" opacity="0.7" filter="url(#b1)"/>
<path d="M9.70 -3.00 9.50 14.00 9.50 39.00 9.40 52.00 9.30 67.00 16.10 67.00 16.10 52.00 16.20 39.00 16.10 14.00 16.10 -3.00Z" fill="#f0b830" opacity="0.95" filter="url(#b05)"/><path d="M10.60 -3.00 10.40 14.00 10.40 39.00 10.30 52.00 10.20 67.00 15.20 67.00 15.20 52.00 15.30 39.00 15.20 14.00 15.20 -3.00Z" fill="#ec2410" filter="url(#b03)"/>
<ellipse cx="12.9" cy="2" rx="2" ry="3" fill="#e8e030" opacity="0.8" filter="url(#b1)"/>
<rect x="9.45" y="13.4" width="6.8" height="25.6" fill="none" stroke="#f4eef2" stroke-width="1.1"/>
</g></g>
<clipPath id="c40"><rect x="136.00" y="204.70" width="27.60" height="64.00"/></clipPath>
<g clip-path="url(#c40)"><rect x="136.00" y="204.70" width="27.60" height="64.00" fill="#35218f"/>
<rect x="136.00" y="204.70" width="27.60" height="64.00" filter="url(#nz0)"/>
<g transform="translate(135.60,204.70)">
<path d="M-4 -4L20.0 -4L14.0 18.0L6.0 40.0L-4 50.0Z" fill="#48b8e8" opacity="0.85" filter="url(#b1)"/>
<path d="M18.0 -4L33 -4L33 14.0L22.0 10.0Z" fill="#4aa0e0" opacity="0.7" filter="url(#b1)"/>
<path d="M-4 38.0L6.0 30.0L10.0 40.0L-4 50.0Z" fill="#3c60c8" opacity="0.6" filter="url(#b1)"/>
<path d="M11.50 -3.00 10.30 4.00 9.50 12.00 9.40 39.00 9.40 52.00 9.50 67.00 17.10 67.00 17.10 52.00 17.20 39.00 17.10 12.00 16.10 4.00 14.70 -3.00Z" fill="#f0b030" opacity="0.95" filter="url(#b05)"/><path d="M12.40 -3.00 11.20 4.00 10.40 12.00 10.30 39.00 10.30 52.00 10.40 67.00 16.20 67.00 16.20 52.00 16.30 39.00 16.20 12.00 15.20 4.00 13.80 -3.00Z" fill="#ec2410" filter="url(#b03)"/>
<path d="M12.2 -4L13.8 -4L15.4 10.0L10.6 10.0Z" fill="#e8e030" opacity="1" filter="url(#b05)"/>
<rect x="9.65" y="13.4" width="6.8" height="25.6" fill="none" stroke="#f4eef2" stroke-width="1.1"/>
</g></g>
<clipPath id="c50"><rect x="165.20" y="204.70" width="27.60" height="64.00"/></clipPath>
<g clip-path="url(#c50)"><rect x="165.20" y="204.70" width="27.60" height="64.00" fill="#35218f"/>
<rect x="165.20" y="204.70" width="27.60" height="64.00" filter="url(#nz2)"/>
<g transform="translate(164.80,204.70)">
<path d="M-4 -4L8.0 -4L2.0 68L-4 68Z" fill="#4858c0" opacity="0.5" filter="url(#b1)"/>
<path d="M14.0 48.0L28.0 46.0L33 68L12.0 68Z" fill="#48b8e8" opacity="0.7" filter="url(#b1)"/>
<path d="M10.00 -3.00 10.00 39.00 10.00 52.00 10.30 67.00 17.50 67.00 17.50 52.00 17.50 39.00 17.30 -3.00Z" fill="#e06050" opacity="0.95" filter="url(#b05)"/><path d="M10.90 -3.00 10.90 39.00 10.90 52.00 11.20 67.00 16.60 67.00 16.60 52.00 16.60 39.00 16.40 -3.00Z" fill="#ec2410" filter="url(#b03)"/>
<circle cx="12.4" cy="4" r="0.9" fill="#4a3a90" opacity="0.85"/><circle cx="15" cy="8" r="0.9" fill="#4a3a90" opacity="0.85"/><circle cx="12.2" cy="14" r="0.9" fill="#4a3a90" opacity="0.85"/><circle cx="15.2" cy="18" r="0.9" fill="#4a3a90" opacity="0.85"/><circle cx="12.8" cy="24" r="0.9" fill="#4a3a90" opacity="0.85"/><circle cx="15" cy="29" r="0.9" fill="#4a3a90" opacity="0.85"/><circle cx="12.4" cy="34" r="0.9" fill="#4a3a90" opacity="0.85"/><circle cx="14.8" cy="41" r="0.9" fill="#4a3a90" opacity="0.85"/><circle cx="12.6" cy="47" r="0.9" fill="#4a3a90" opacity="0.85"/><circle cx="15" cy="53" r="0.9" fill="#4a3a90" opacity="0.85"/><circle cx="12.8" cy="59" r="0.9" fill="#4a3a90" opacity="0.85"/>
<circle cx="13.5" cy="10" r="0.7" fill="#f0e040" opacity="1"/><circle cx="14" cy="22" r="0.7" fill="#f0e040" opacity="1"/><circle cx="13.4" cy="38" r="0.7" fill="#f0e040" opacity="1"/><circle cx="14" cy="50" r="0.7" fill="#f0e040" opacity="1"/>
<rect x="9.80" y="13.4" width="6.8" height="25.6" fill="none" stroke="#f4eef2" stroke-width="1.1"/>
</g></g>
<clipPath id="c60"><rect x="194.40" y="204.70" width="27.60" height="64.00"/></clipPath>
<g clip-path="url(#c60)"><rect x="194.40" y="204.70" width="27.60" height="64.00" fill="#35218f"/>
<rect x="194.40" y="204.70" width="27.60" height="64.00" filter="url(#nz0)"/>
<g transform="translate(194.00,204.70)">
<path d="M-4 -4L33 -4L33 5.0L18.0 8.0L10.0 10.0L-4 14.0Z" fill="#48b8e8" opacity="0.9" filter="url(#b1)"/>
<path d="M-4 -4L9.0 -4L6.0 8.0L-4 10.0Z" fill="#e8e030" opacity="0.85" filter="url(#b1)"/>
<path d="M18.0 -4L26.0 -4L22.0 5.0L18.0 5.0Z" fill="#b8dc48" opacity="0.8" filter="url(#b1)"/>
<path d="M-4 58.0L4.0 56.0L6.0 68L-4 68Z" fill="#70d0e0" opacity="0.6" filter="url(#b1)"/>
<path d="M9.00 -3.00 9.00 39.00 9.10 52.00 9.10 67.00 17.90 67.00 18.10 52.00 18.30 39.00 18.30 -3.00Z" fill="#f0c040" opacity="0.95" filter="url(#b05)"/><path d="M9.90 -3.00 9.90 39.00 10.00 52.00 10.00 67.00 17.00 67.00 17.20 52.00 17.40 39.00 17.40 -3.00Z" fill="#ec2410" filter="url(#b03)"/>
<rect x="10.70" y="13.4" width="6.8" height="25.6" fill="none" stroke="#f4eef2" stroke-width="1.1"/>
</g></g>
<clipPath id="c70"><rect x="223.60" y="204.70" width="27.60" height="64.00"/></clipPath>
<g clip-path="url(#c70)"><rect x="223.60" y="204.70" width="27.60" height="64.00" fill="#35218f"/>
<rect x="223.60" y="204.70" width="27.60" height="64.00" filter="url(#nz2)"/>
<g transform="translate(223.20,204.70)">
<path d="M-4 -4L13.0 -4L10.0 12.0L4.0 36.0L-4 48.0Z" fill="#b8dc48" opacity="0.95" filter="url(#b1)"/>
<path d="M-4 -4L10.0 -4L6.0 10.0L-4 26.0Z" fill="#e8e030" opacity="0.95" filter="url(#b1)"/>
<path d="M9.0 -4L13.0 -4L11.0 10.0L7.0 16.0Z" fill="#48b8e8" opacity="0.8" filter="url(#b1)"/>
<path d="M20.0 -4L33 -4L33 8.0L22.0 6.0Z" fill="#e8e030" opacity="0.85" filter="url(#b1)"/>
<path d="M18.0 54.0L33 44.0L33 52.0L20.0 68Z" fill="#a0d860" opacity="0.85" filter="url(#b1)"/>
<path d="M22.0 68L33 56.0L33 68Z" fill="#48b8e8" opacity="0.8" filter="url(#b1)"/>
<path d="M-4 56.0L10.0 58.0L10.0 68L-4 68Z" fill="#48b8e8" opacity="0.7" filter="url(#b1)"/>
<path d="M10.30 -3.00 10.30 39.00 10.30 54.00 8.10 60.00 7.10 67.00 22.90 67.00 21.90 60.00 19.70 54.00 19.70 39.00 19.70 -3.00Z" fill="#f0b830" opacity="0.95" filter="url(#b05)"/><path d="M11.20 -3.00 11.20 39.00 11.20 54.00 9.00 60.00 8.00 67.00 22.00 67.00 21.00 60.00 18.80 54.00 18.80 39.00 18.80 -3.00Z" fill="#ec2410" filter="url(#b03)"/>
<rect x="11.50" y="13.4" width="6.8" height="25.6" fill="none" stroke="#f4eef2" stroke-width="1.1"/>
</g></g>
<clipPath id="c80"><rect x="252.80" y="204.70" width="27.80" height="64.00"/></clipPath>
<g clip-path="url(#c80)"><rect x="252.80" y="204.70" width="27.80" height="64.00" fill="#35218f"/>
<rect x="252.80" y="204.70" width="27.80" height="64.00" filter="url(#nz0)"/>
<g transform="translate(252.40,204.70)">
<path d="M11.30 -3.00 10.90 8.00 10.30 39.00 10.30 52.00 10.10 67.00 17.10 67.00 17.50 52.00 17.90 39.00 17.90 8.00 17.70 -3.00Z" fill="#e8c040" opacity="0.95" filter="url(#b05)"/><path d="M12.20 -3.00 11.80 8.00 11.20 39.00 11.20 52.00 11.00 67.00 16.20 67.00 16.60 52.00 17.00 39.00 17.00 8.00 16.80 -3.00Z" fill="#ec2410" filter="url(#b03)"/>
<path d="M12.0 -4L17.0 -4L16.6 9.0L12.0 9.0Z" fill="#c8e050" opacity="1" filter="url(#b05)"/>
<path d="M19.5 20q3 2.5 1 6M21.5 28q3 2.5 0.5 6M19.5 36q3 1.5 1 5" stroke="#e4e4f6" stroke-width="1.2" fill="none"/>
<rect x="11.20" y="13.4" width="6.8" height="25.6" fill="none" stroke="#f4eef2" stroke-width="1.1"/>
</g></g>
<clipPath id="c01"><rect x="18.80" y="270.30" width="28.00" height="64.50"/></clipPath>
<g clip-path="url(#c01)"><rect x="18.80" y="270.30" width="28.00" height="64.50" fill="#35218f"/>
<rect x="18.80" y="270.30" width="28.00" height="64.50" filter="url(#nz1)"/>
<g transform="translate(18.80,270.30)">
<path d="M2.0 -4L11.0 -4L11.0 24.0L3.0 16.0Z" fill="#48b8e8" opacity="0.9" filter="url(#b1)"/>
<path d="M16.0 -4L33 -4L33 22.0L22.0 26.0L17.0 20.0Z" fill="#48b8e8" opacity="0.95" filter="url(#b1)"/>
<path d="M4.0 68L8.0 56.0L14.0 58.0L16.0 68Z" fill="#a0d860" opacity="0.8" filter="url(#b1)"/>
<path d="M9.0 -4L17.0 -4L16.0 6.0L10.0 8.0Z" fill="#70d0e0" opacity="0.9" filter="url(#b1)"/>
<path d="M15.0 52.0L33 48.0L33 68L14.0 68Z" fill="#48b8e8" opacity="0.85" filter="url(#b1)"/>
<path d="M11.10 -3.00 10.30 8.00 10.10 30.00 10.70 42.00 13.10 52.00 15.60 58.00 17.10 67.00 24.40 67.00 22.90 58.00 20.30 52.00 17.50 42.00 16.90 30.00 16.70 8.00 15.90 -3.00Z" fill="#f0b830" opacity="0.95" filter="url(#b05)"/><path d="M12.00 -3.00 11.20 8.00 11.00 30.00 11.60 42.00 14.00 52.00 16.50 58.00 18.00 67.00 23.50 67.00 22.00 58.00 19.40 52.00 16.60 42.00 16.00 30.00 15.80 8.00 15.00 -3.00Z" fill="#ec2410" filter="url(#b03)"/>
<path d="M12.0 -4L15.0 -4L15.8 8.0L11.2 8.0Z" fill="#f0c030" opacity="1" filter="url(#b05)"/>
<rect x="1.5" y="60.6" width="5" height="1.3" fill="#f0f0f0"/>
<rect x="9.95" y="15.2" width="6.8" height="25.8" fill="none" stroke="#f4eef2" stroke-width="1.1"/>
</g></g>
<clipPath id="c11"><rect x="48.40" y="270.30" width="27.60" height="64.50"/></clipPath>
<g clip-path="url(#c11)"><rect x="48.40" y="270.30" width="27.60" height="64.50" fill="#35218f"/>
<rect x="48.40" y="270.30" width="27.60" height="64.50" filter="url(#nz3)"/>
<g transform="translate(48.00,270.30)">
<path d="M10.10 -3.00 9.50 15.00 15.30 15.00 15.10 -3.00Z" fill="#80d0d0" opacity="0.95" filter="url(#b05)"/><path d="M11.00 -3.00 10.40 15.00 14.40 15.00 14.20 -3.00Z" fill="#f07818" filter="url(#b03)"/>
<path d="M11.0 -4L14.2 -4L14.4 8.0L10.4 8.0Z" fill="#d8e040" opacity="1" filter="url(#b05)"/>
<rect x="9.55" y="15.2" width="5.6" height="25.8" fill="#101040" opacity="1"/>
<circle cx="11" cy="19" r="0.75" fill="#78d0e8" opacity="1"/><circle cx="13.6" cy="23" r="0.75" fill="#78d0e8" opacity="1"/><circle cx="11.5" cy="27" r="0.75" fill="#78d0e8" opacity="1"/><circle cx="13.4" cy="31" r="0.75" fill="#78d0e8" opacity="1"/><circle cx="11.2" cy="35" r="0.75" fill="#78d0e8" opacity="1"/><circle cx="13.2" cy="38" r="0.75" fill="#78d0e8" opacity="1"/><circle cx="12.2" cy="21" r="0.75" fill="#78d0e8" opacity="1"/><circle cx="12.4" cy="33" r="0.75" fill="#78d0e8" opacity="1"/>
<circle cx="11.4" cy="44" r="0.85" fill="#c8f0f0" opacity="1"/><circle cx="12.6" cy="47" r="0.85" fill="#c8f0f0" opacity="1"/><circle cx="11.2" cy="50" r="0.85" fill="#c8f0f0" opacity="1"/><circle cx="12.4" cy="53" r="0.85" fill="#c8f0f0" opacity="1"/><circle cx="11.8" cy="56" r="0.85" fill="#c8f0f0" opacity="1"/><circle cx="12.8" cy="59" r="0.85" fill="#c8f0f0" opacity="1"/>
<path d="M-4 55.0L3.0 52.0L8.0 57.0L10.0 68L-4 68Z" fill="#0c0828" opacity="0.8" filter="url(#b05)"/>
<circle cx="3" cy="52" r="1.1" fill="#101030" opacity="0.9"/><circle cx="6" cy="55" r="1.1" fill="#101030" opacity="0.9"/><circle cx="9" cy="59" r="1.1" fill="#101030" opacity="0.9"/><circle cx="2" cy="58" r="1.1" fill="#101030" opacity="0.9"/>
<rect x="8.95" y="15.2" width="6.8" height="25.8" fill="none" stroke="#f4eef2" stroke-width="1.1"/>
</g></g>
<clipPath id="c21"><rect x="77.60" y="270.30" width="27.60" height="64.50"/></clipPath>
<g clip-path="url(#c21)"><rect x="77.60" y="270.30" width="27.60" height="64.50" fill="#35218f"/>
<rect x="77.60" y="270.30" width="27.60" height="64.50" filter="url(#nz1)"/>
<g transform="translate(77.20,270.30)">
<path d="M8.0 -4L20.0 -4L18.0 8.0L10.0 8.0Z" fill="#48b8e8" opacity="0.8" filter="url(#b1)"/>
<path d="M20.0 -4L33 -4L33 6.0L22.0 4.0Z" fill="#70d0e0" opacity="0.7" filter="url(#b1)"/>
<path d="M11.50 -3.00 10.50 15.00 10.30 41.00 10.90 52.00 10.90 67.00 16.10 67.00 16.10 52.00 16.70 41.00 16.50 15.00 15.70 -3.00Z" fill="#e0c030" opacity="0.95" filter="url(#b05)"/><path d="M12.40 -3.00 11.40 15.00 11.20 41.00 11.80 52.00 11.80 67.00 15.20 67.00 15.20 52.00 15.80 41.00 15.60 15.00 14.80 -3.00Z" fill="#e84818" filter="url(#b03)"/>
<path d="M12.4 -4L14.8 -4L15.6 14.0L11.4 14.0Z" fill="#c8e050" opacity="1" filter="url(#b05)"/>
<circle cx="13" cy="5" r="0.8" fill="#e83010" opacity="1"/><circle cx="14" cy="10" r="0.8" fill="#e83010" opacity="1"/>
<rect x="10.65" y="15.2" width="5.6" height="25.8" fill="#c0dc48" opacity="1"/>
<circle cx="12.6" cy="46" r="0.9" fill="#302040" opacity="1"/><circle cx="14.2" cy="52" r="0.9" fill="#302040" opacity="1"/><circle cx="12.8" cy="58" r="0.9" fill="#302040" opacity="1"/>
<path d="M16.0 58.0L33 54.0L33 68L14.0 68Z" fill="#3a70c8" opacity="0.6" filter="url(#b1)"/>
<rect x="10.05" y="15.2" width="6.8" height="25.8" fill="none" stroke="#f4eef2" stroke-width="1.1"/>
</g></g>
<clipPath id="c31"><rect x="106.80" y="270.30" width="27.60" height="64.50"/></clipPath>
<g clip-path="url(#c31)"><rect x="106.80" y="270.30" width="27.60" height="64.50" fill="#35218f"/>
<rect x="106.80" y="270.30" width="27.60" height="64.50" filter="url(#nz3)"/>
<g transform="translate(106.40,270.30)">
<path d="M-4 -4L33 -4L33 12.0L18.0 14.0L8.0 22.0L-4 34.0Z" fill="#48b8e8" opacity="0.85" filter="url(#b1)"/>
<path d="M15.0 -4L33 -4L33 10.0L22.0 8.0L16.0 6.0Z" fill="#48b8e8" opacity="0.9" filter="url(#b1)"/>
<path d="M-4 44.0L6.0 48.0L4.0 68L-4 68Z" fill="#4080d0" opacity="0.5" filter="url(#b1)"/>
<path d="M9.50 -3.00 9.30 41.00 9.30 67.00 15.90 67.00 15.90 41.00 15.70 -3.00Z" fill="#f0b830" opacity="0.95" filter="url(#b05)"/><path d="M10.40 -3.00 10.20 41.00 10.20 67.00 15.00 67.00 15.00 41.00 14.80 -3.00Z" fill="#ec2410" filter="url(#b03)"/>
<path d="M10.6 -4L14.6 -4L14.4 6.0L10.6 6.0Z" fill="#e8e030" opacity="1" filter="url(#b05)"/>
<rect x="9.15" y="15.2" width="6.8" height="25.8" fill="none" stroke="#f4eef2" stroke-width="1.1"/>
</g></g>
<clipPath id="c41"><rect x="136.00" y="270.30" width="27.60" height="64.50"/></clipPath>
<g clip-path="url(#c41)"><rect x="136.00" y="270.30" width="27.60" height="64.50" fill="#35218f"/>
<rect x="136.00" y="270.30" width="27.60" height="64.50" filter="url(#nz1)"/>
<g transform="translate(135.60,270.30)">
<path d="M-4 -4L14.0 -4L11.0 16.0L5.0 40.0L-4 52.0Z" fill="#48b8e8" opacity="0.85" filter="url(#b1)"/>
<path d="M16.0 -4L33 -4L33 8.0L20.0 8.0Z" fill="#48b8e8" opacity="0.7" filter="url(#b1)"/>
<path d="M16.0 30.0L33 36.0L33 50.0L20.0 46.0Z" fill="#180c50" opacity="0.5" filter="url(#b1)"/>
<path d="M10.70 -3.00 9.70 4.00 9.10 12.00 9.10 41.00 9.30 67.00 15.90 67.00 16.10 41.00 16.10 12.00 15.50 4.00 14.50 -3.00Z" fill="#f0c030" opacity="0.95" filter="url(#b05)"/><path d="M11.60 -3.00 10.60 4.00 10.00 12.00 10.00 41.00 10.20 67.00 15.00 67.00 15.20 41.00 15.20 12.00 14.60 4.00 13.60 -3.00Z" fill="#ec2410" filter="url(#b03)"/>
<path d="M11.6 -4L13.6 -4L15.0 12.0L10.4 12.0Z" fill="#e8e030" opacity="1" filter="url(#b05)"/>
<rect x="9.15" y="15.2" width="6.8" height="25.8" fill="none" stroke="#f4eef2" stroke-width="1.1"/>
</g></g>
<clipPath id="c51"><rect x="165.20" y="270.30" width="27.60" height="64.50"/></clipPath>
<g clip-path="url(#c51)"><rect x="165.20" y="270.30" width="27.60" height="64.50" fill="#35218f"/>
<rect x="165.20" y="270.30" width="27.60" height="64.50" filter="url(#nz3)"/>
<g transform="translate(164.80,270.30)">
<path d="M-4 -4L12.0 -4L10.0 30.0L-4 34.0Z" fill="#180c50" opacity="0.55" filter="url(#b1)"/>
<path d="M13.6 -2C11.5 6 15.5 12 13.6 18S11.5 28 13.6 34S15.5 44 13.6 50S12 60 13.6 66" stroke="#48c0e0" stroke-width="4.6" fill="none" filter="url(#b05)"/>
<path d="M13.6 -2C11.5 6 15.5 12 13.6 18S11.5 28 13.6 34S15.5 44 13.6 50S12 60 13.6 66" stroke="#f0c830" stroke-width="2.2" fill="none"/>
<circle cx="13" cy="10" r="1.0" fill="#f06020" opacity="1"/><circle cx="14.4" cy="22" r="1.0" fill="#f06020" opacity="1"/><circle cx="12.8" cy="30" r="1.0" fill="#f06020" opacity="1"/><circle cx="14.6" cy="40" r="1.0" fill="#f06020" opacity="1"/><circle cx="13" cy="48" r="1.0" fill="#f06020" opacity="1"/><circle cx="14" cy="56" r="1.0" fill="#f06020" opacity="1"/>
<circle cx="12.6" cy="16" r="0.8" fill="#1a1848" opacity="1"/><circle cx="14.4" cy="36" r="0.8" fill="#1a1848" opacity="1"/><circle cx="12.8" cy="52" r="0.8" fill="#1a1848" opacity="1"/>
<path d="M16.0 56.0L33 52.0L33 68L14.0 68Z" fill="#4090d0" opacity="0.6" filter="url(#b1)"/>
</g></g>
<clipPath id="c61"><rect x="194.40" y="270.30" width="27.60" height="64.50"/></clipPath>
<g clip-path="url(#c61)"><rect x="194.40" y="270.30" width="27.60" height="64.50" fill="#35218f"/>
<rect x="194.40" y="270.30" width="27.60" height="64.50" filter="url(#nz1)"/>
<g transform="translate(194.00,270.30)">
<path d="M10.90 -3.00 10.30 8.00 9.30 14.00 9.30 41.00 10.10 50.00 10.70 67.00 16.90 67.00 17.30 50.00 18.10 41.00 18.10 14.00 17.30 8.00 16.50 -3.00Z" fill="#c8e050" opacity="0.95" filter="url(#b05)"/><path d="M12.00 -3.00 11.40 8.00 10.40 14.00 10.40 41.00 11.20 50.00 11.80 67.00 15.80 67.00 16.20 50.00 17.00 41.00 17.00 14.00 16.20 8.00 15.40 -3.00Z" fill="#ec2410" filter="url(#b03)"/>
<path d="M11.6 -4L15.6 -4L16.0 8.0L11.0 8.0Z" fill="#f0a030" opacity="1" filter="url(#b05)"/>
<circle cx="12.5" cy="24" r="0.8" fill="#4070c0" opacity="0.8"/><circle cx="14.5" cy="30" r="0.8" fill="#4070c0" opacity="0.8"/>
<rect x="10.35" y="15.2" width="6.8" height="25.8" fill="none" stroke="#f4eef2" stroke-width="1.1"/>
</g></g>
<clipPath id="c71"><rect x="223.60" y="270.30" width="27.60" height="64.50"/></clipPath>
<g clip-path="url(#c71)"><rect x="223.60" y="270.30" width="27.60" height="64.50" fill="#35218f"/>
<rect x="223.60" y="270.30" width="27.60" height="64.50" filter="url(#nz3)"/>
<g transform="translate(223.20,270.30)">
<path d="M-4 -4L16.0 -4L12.0 14.0L4.0 34.0L-4 38.0Z" fill="#b8dc48" opacity="0.95" filter="url(#b1)"/>
<path d="M-4 -4L12.0 -4L8.0 10.0L-4 22.0Z" fill="#e8e030" opacity="0.95" filter="url(#b1)"/>
<path d="M-4 -4L6.0 -4L4.0 6.0L-4 8.0Z" fill="#f08030" opacity="0.8" filter="url(#b1)"/>
<path d="M20.0 -4L33 -4L33 4.0L22.0 4.0Z" fill="#48b8e8" opacity="0.7" filter="url(#b1)"/>
<path d="M-4 56.0L10.0 58.0L10.0 68L-4 68Z" fill="#48b8e8" opacity="0.7" filter="url(#b1)"/>
<path d="M10.30 -3.00 10.30 41.00 10.30 54.00 8.10 60.00 7.10 67.00 23.40 67.00 22.40 60.00 19.90 54.00 19.90 41.00 19.90 -3.00Z" fill="#f0b830" opacity="0.95" filter="url(#b05)"/><path d="M11.20 -3.00 11.20 41.00 11.20 54.00 9.00 60.00 8.00 67.00 22.50 67.00 21.50 60.00 19.00 54.00 19.00 41.00 19.00 -3.00Z" fill="#ec2410" filter="url(#b03)"/>
<rect x="11.70" y="15.2" width="6.8" height="25.8" fill="none" stroke="#f4eef2" stroke-width="1.1"/>
</g></g>
<clipPath id="c81"><rect x="252.80" y="270.30" width="27.80" height="64.50"/></clipPath>
<g clip-path="url(#c81)"><rect x="252.80" y="270.30" width="27.80" height="64.50" fill="#35218f"/>
<rect x="252.80" y="270.30" width="27.80" height="64.50" filter="url(#nz1)"/>
<g transform="translate(252.40,270.30)">
<path d="M11.70 -3.00 11.30 10.00 11.10 41.00 11.10 52.00 11.10 67.00 17.70 67.00 17.90 52.00 18.30 41.00 18.10 10.00 17.90 -3.00Z" fill="#e8c040" opacity="0.95" filter="url(#b05)"/><path d="M12.60 -3.00 12.20 10.00 12.00 41.00 12.00 52.00 12.00 67.00 16.80 67.00 17.00 52.00 17.40 41.00 17.20 10.00 17.00 -3.00Z" fill="#ea3614" filter="url(#b03)"/>
<path d="M12.6 -4L17.0 -4L17.0 10.0L12.4 10.0Z" fill="#d0e048" opacity="1" filter="url(#b05)"/>
<path d="M19.5 18q3 2.5 1 6M21.5 26q3 2.5 0.5 6M19.5 34q3 1.5 1 5" stroke="#e4e4f6" stroke-width="1.2" fill="none"/>
<rect x="11.45" y="15.2" width="6.8" height="25.8" fill="none" stroke="#f4eef2" stroke-width="1.1"/>
</g></g>
<rect x="285" y="231.9" width="5.3" height="75.8" fill="url(#jet)"/>
<text x="284.4" y="227.6" font-size="8.3" text-anchor="start" font-weight="normal" fill="#333" >989</text>
<text x="285.3" y="315.2" font-size="8.3" text-anchor="start" font-weight="normal" fill="#333" >0</text>
<text x="325.5" y="183.5" font-size="11.4" text-anchor="start" font-weight="bold" fill="#111" >E</text>
<path d="M368.2 210.5L368.2 301.8" stroke="#333" stroke-width="1.2"/>
<path d="M367.6 301.3L511.4 301.3" stroke="#333" stroke-width="1.2"/>
<path d="M364.7 301.3L368.2 301.3" stroke="#333" stroke-width="1"/>
<text x="362.8" y="304.2" font-size="8" text-anchor="end" font-weight="normal" fill="#333" >0</text>
<path d="M364.7 283.48L368.2 283.48" stroke="#333" stroke-width="1"/>
<text x="362.8" y="286.38" font-size="8" text-anchor="end" font-weight="normal" fill="#333" >200</text>
<path d="M364.7 265.66L368.2 265.66" stroke="#333" stroke-width="1"/>
<text x="362.8" y="268.56" font-size="8" text-anchor="end" font-weight="normal" fill="#333" >400</text>
<path d="M364.7 247.84L368.2 247.84" stroke="#333" stroke-width="1"/>
<text x="362.8" y="250.74" font-size="8" text-anchor="end" font-weight="normal" fill="#333" >600</text>
<path d="M364.7 230.02L368.2 230.02" stroke="#333" stroke-width="1"/>
<text x="362.8" y="232.92000000000002" font-size="8" text-anchor="end" font-weight="normal" fill="#333" >800</text>
<path d="M364.7 212.20000000000002L368.2 212.20000000000002" stroke="#333" stroke-width="1"/>
<text x="362.8" y="215.10000000000002" font-size="8" text-anchor="end" font-weight="normal" fill="#333" >1000</text>
<path d="M403.7 301.3L403.7 304.3" stroke="#333" stroke-width="1"/>
<path d="M475.4 301.3L475.4 304.3" stroke="#333" stroke-width="1"/>
<text x="403.7" y="314.2" font-size="7.6" text-anchor="middle" font-weight="normal" fill="#333" >5min</text>
<text x="475.4" y="314.2" font-size="7.6" text-anchor="middle" font-weight="normal" fill="#333" >10min</text>
<text transform="translate(335,257) rotate(-90)" font-size="8" text-anchor="middle" fill="#444">Perfusion unit</text>
<path d="M383.5 176.9L435.8 176.9" stroke="#4a4a4a" stroke-width="1.3"/>
<text x="409.4" y="176.6" font-size="8" text-anchor="middle" fill="#222" letter-spacing="0.6">*</text>
<path d="M383.5 185.8L426.7 185.8" stroke="#4a4a4a" stroke-width="1.3"/>
<text x="404.6" y="185.5" font-size="8" text-anchor="middle" fill="#222" letter-spacing="0.6">*</text>
<path d="M383.5 194.8L419.0 194.8" stroke="#4a4a4a" stroke-width="1.3"/>
<text x="401.2" y="194.5" font-size="8" text-anchor="middle" fill="#222" letter-spacing="0.6">*</text>
<path d="M373.8 204.4L383.0 204.4" stroke="#4a4a4a" stroke-width="1.3"/>
<text x="378.4" y="204.1" font-size="8" text-anchor="middle" fill="#222" letter-spacing="0.6">*</text>
<path d="M388.8 204.4L397.9 204.4" stroke="#4a4a4a" stroke-width="1.3"/>
<text x="393.35" y="204.1" font-size="8" text-anchor="middle" fill="#222" letter-spacing="0.6">*</text>
<path d="M404.2 204.4L413.3 204.4" stroke="#4a4a4a" stroke-width="1.3"/>
<text x="408.75" y="204.1" font-size="8" text-anchor="middle" fill="#222" letter-spacing="0.6">*</text>
<path d="M456.5 176.9L509.4 176.9" stroke="#4a4a4a" stroke-width="1.3"/>
<text x="485.4" y="176.6" font-size="8" text-anchor="middle" fill="#222" letter-spacing="0.6">*</text>
<path d="M456.5 185.8L500.4 185.8" stroke="#4a4a4a" stroke-width="1.3"/>
<text x="477.7" y="185.5" font-size="8" text-anchor="middle" fill="#222" letter-spacing="0.6">**</text>
<path d="M456.5 194.8L493.0 194.8" stroke="#4a4a4a" stroke-width="1.3"/>
<text x="477.3" y="194.5" font-size="8" text-anchor="middle" fill="#222" letter-spacing="0.6">*</text>
<path d="M446.3 204.4L455.2 204.4" stroke="#4a4a4a" stroke-width="1.3"/>
<text x="450.75" y="204.1" font-size="8" text-anchor="middle" fill="#222" letter-spacing="0.6">**</text>
<path d="M461.0 204.4L469.6 204.4" stroke="#4a4a4a" stroke-width="1.3"/>
<text x="465.3" y="204.1" font-size="8" text-anchor="middle" fill="#222" letter-spacing="0.6">**</text>
<path d="M476.2 204.4L484.8 204.4" stroke="#4a4a4a" stroke-width="1.3"/>
<text x="480.5" y="204.1" font-size="8" text-anchor="middle" fill="#222" letter-spacing="0.6">**</text>
<circle cx="375.31" cy="212.30" r="1.50" fill="#c0102c"/>
<circle cx="372.62" cy="212.70" r="1.50" fill="#c0102c"/>
<circle cx="373.32" cy="216.31" r="1.50" fill="#c0102c"/>
<circle cx="372.74" cy="218.83" r="1.50" fill="#c0102c"/>
<circle cx="375.39" cy="227.10" r="1.50" fill="#c0102c"/>
<circle cx="373.91" cy="232.80" r="1.50" fill="#c0102c"/>
<path d="M373.90 214.00V226.00M372.10 214.00H375.70M372.10 226.00H375.70M370.30 219.90H377.50" stroke="#1e1e1e" stroke-width="0.9" fill="none"/>
<rect x="380.77" y="219.30" width="3.00" height="3.00" fill="#1a3c80"/>
<rect x="378.76" y="221.67" width="3.00" height="3.00" fill="#1a3c80"/>
<rect x="379.30" y="248.31" width="3.00" height="3.00" fill="#1a3c80"/>
<rect x="378.19" y="255.06" width="3.00" height="3.00" fill="#1a3c80"/>
<rect x="380.95" y="255.55" width="3.00" height="3.00" fill="#1a3c80"/>
<rect x="379.41" y="256.10" width="3.00" height="3.00" fill="#1a3c80"/>
<path d="M381.35 220.80V252.00M379.55 220.80H383.15M379.55 252.00H383.15M377.75 236.30H384.95" stroke="#1e1e1e" stroke-width="0.9" fill="none"/>
<path d="M389.76 213.78L391.41 216.78L388.11 216.78Z" fill="#3a9a40"/>
<path d="M386.99 223.37L388.64 226.37L385.34 226.37Z" fill="#3a9a40"/>
<path d="M388.88 229.44L390.53 232.44L387.23 232.44Z" fill="#3a9a40"/>
<path d="M387.23 244.16L388.88 247.16L385.58 247.16Z" fill="#3a9a40"/>
<path d="M389.70 247.59L391.35 250.59L388.05 250.59Z" fill="#3a9a40"/>
<path d="M388.27 250.88L389.92 253.88L386.62 253.88Z" fill="#3a9a40"/>
<path d="M388.80 223.80V252.00M387.00 223.80H390.60M387.00 252.00H390.60M385.20 238.10H392.40" stroke="#1e1e1e" stroke-width="0.9" fill="none"/>
<path d="M397.75 214.72L399.40 211.72L396.10 211.72Z" fill="#40124e"/>
<path d="M394.57 215.52L396.22 212.52L392.92 212.52Z" fill="#40124e"/>
<path d="M395.75 219.40L397.40 216.40L394.10 216.40Z" fill="#40124e"/>
<path d="M394.51 222.30L396.16 219.30L392.86 219.30Z" fill="#40124e"/>
<path d="M397.12 225.05L398.77 222.05L395.47 222.05Z" fill="#40124e"/>
<path d="M396.69 225.72L398.34 222.72L395.04 222.72Z" fill="#40124e"/>
<path d="M396.25 214.50V224.00M394.45 214.50H398.05M394.45 224.00H398.05M392.65 219.30H399.85" stroke="#1e1e1e" stroke-width="0.9" fill="none"/>
<circle cx="404.79" cy="212.00" r="1.50" fill="#c41862"/>
<circle cx="402.76" cy="222.17" r="1.50" fill="#c41862"/>
<circle cx="403.73" cy="225.61" r="1.50" fill="#c41862"/>
<circle cx="402.64" cy="228.59" r="1.50" fill="#c41862"/>
<circle cx="404.62" cy="239.80" r="1.50" fill="#c41862"/>
<circle cx="403.29" cy="242.00" r="1.50" fill="#c41862"/>
<path d="M403.70 214.00V235.00M401.90 214.00H405.50M401.90 235.00H405.50M400.10 224.80H407.30" stroke="#1e1e1e" stroke-width="0.9" fill="none"/>
<path d="M412.27 220.08L413.92 223.08L410.62 223.08Z" fill="#d8b030"/>
<path d="M409.80 221.93L411.45 224.93L408.15 224.93Z" fill="#d8b030"/>
<path d="M410.76 227.50L412.41 230.50L409.11 230.50Z" fill="#d8b030"/>
<path d="M409.97 231.30L411.62 234.30L408.32 234.30Z" fill="#d8b030"/>
<path d="M411.97 231.56L413.62 234.56L410.32 234.56Z" fill="#d8b030"/>
<path d="M410.85 248.02L412.50 251.02L409.20 251.02Z" fill="#d8b030"/>
<path d="M411.97 256.88L413.62 259.88L410.32 259.88Z" fill="#d8b030"/>
<path d="M411.15 228.80V258.00M409.35 228.80H412.95M409.35 258.00H412.95M407.55 243.30H414.75" stroke="#1e1e1e" stroke-width="0.9" fill="none"/>
<rect x="418.44" y="210.50" width="3.00" height="3.00" fill="#0c4838"/>
<rect x="415.38" y="212.94" width="3.00" height="3.00" fill="#0c4838"/>
<rect x="416.97" y="214.86" width="3.00" height="3.00" fill="#0c4838"/>
<rect x="415.74" y="220.44" width="3.00" height="3.00" fill="#0c4838"/>
<rect x="418.66" y="221.42" width="3.00" height="3.00" fill="#0c4838"/>
<rect x="417.68" y="223.17" width="3.00" height="3.00" fill="#0c4838"/>
<rect x="418.28" y="227.36" width="3.00" height="3.00" fill="#0c4838"/>
<rect x="415.38" y="229.34" width="3.00" height="3.00" fill="#0c4838"/>
<rect x="417.35" y="232.00" width="3.00" height="3.00" fill="#0c4838"/>
<rect x="415.60" y="233.50" width="3.00" height="3.00" fill="#0c4838"/>
<path d="M418.60 218.00V231.00M416.80 218.00H420.40M416.80 231.00H420.40M415.00 224.80H422.20" stroke="#1e1e1e" stroke-width="0.9" fill="none"/>
<path d="M427.13 212.05L428.78 214.00L427.13 215.95L425.48 214.00Z" fill="#1c3a58"/>
<path d="M425.07 213.19L426.72 215.14L425.07 217.09L423.42 215.14Z" fill="#1c3a58"/>
<path d="M425.55 213.54L427.20 215.49L425.55 217.44L423.90 215.49Z" fill="#1c3a58"/>
<path d="M424.32 214.78L425.97 216.73L424.32 218.68L422.67 216.73Z" fill="#1c3a58"/>
<path d="M427.81 219.35L429.46 221.30L427.81 223.25L426.16 221.30Z" fill="#1c3a58"/>
<path d="M426.25 220.55L427.90 222.50L426.25 224.45L424.60 222.50Z" fill="#1c3a58"/>
<path d="M427.16 227.61L428.81 229.56L427.16 231.51L425.51 229.56Z" fill="#1c3a58"/>
<path d="M424.98 233.05L426.63 235.00L424.98 236.95L423.33 235.00Z" fill="#1c3a58"/>
<path d="M426.05 215.00V225.00M424.25 215.00H427.85M424.25 225.00H427.85M422.45 219.90H429.65" stroke="#1e1e1e" stroke-width="0.9" fill="none"/>
<circle cx="435.37" cy="218.00" r="1.50" fill="#202030"/>
<circle cx="432.10" cy="220.05" r="1.50" fill="#202030"/>
<circle cx="433.19" cy="221.42" r="1.50" fill="#202030"/>
<circle cx="431.64" cy="221.81" r="1.50" fill="#202030"/>
<circle cx="434.64" cy="223.80" r="1.50" fill="#202030"/>
<circle cx="433.33" cy="223.97" r="1.50" fill="#202030"/>
<circle cx="434.30" cy="230.50" r="1.50" fill="#202030"/>
<circle cx="432.28" cy="231.00" r="1.50" fill="#202030"/>
<path d="M433.50 219.00V230.00M431.70 219.00H435.30M431.70 230.00H435.30M429.90 224.80H437.10" stroke="#1e1e1e" stroke-width="0.9" fill="none"/>
<circle cx="446.99" cy="214.90" r="1.50" fill="#c0102c"/>
<circle cx="445.00" cy="215.03" r="1.50" fill="#c0102c"/>
<circle cx="445.78" cy="220.29" r="1.50" fill="#c0102c"/>
<circle cx="445.05" cy="227.62" r="1.50" fill="#c0102c"/>
<circle cx="446.72" cy="228.37" r="1.50" fill="#c0102c"/>
<circle cx="445.67" cy="228.43" r="1.50" fill="#c0102c"/>
<circle cx="446.96" cy="241.70" r="1.50" fill="#c0102c"/>
<path d="M445.90 224.20V237.40M444.10 224.20H447.70M444.10 237.40H447.70M442.30 230.80H449.50" stroke="#1e1e1e" stroke-width="0.9" fill="none"/>
<rect x="453.08" y="257.60" width="3.00" height="3.00" fill="#1a3c80"/>
<rect x="450.69" y="274.43" width="3.00" height="3.00" fill="#1a3c80"/>
<rect x="452.43" y="276.22" width="3.00" height="3.00" fill="#1a3c80"/>
<rect x="450.89" y="278.51" width="3.00" height="3.00" fill="#1a3c80"/>
<rect x="453.45" y="280.37" width="3.00" height="3.00" fill="#1a3c80"/>
<rect x="452.02" y="281.47" width="3.00" height="3.00" fill="#1a3c80"/>
<rect x="452.70" y="285.56" width="3.00" height="3.00" fill="#1a3c80"/>
<rect x="450.13" y="289.40" width="3.00" height="3.00" fill="#1a3c80"/>
<path d="M453.35 267.50V279.40M451.55 267.50H455.15M451.55 279.40H455.15M449.75 272.40H456.95" stroke="#1e1e1e" stroke-width="0.9" fill="none"/>
<path d="M461.75 261.27L463.40 264.27L460.10 264.27Z" fill="#3a9a40"/>
<path d="M459.42 281.98L461.07 284.98L457.77 284.98Z" fill="#3a9a40"/>
<path d="M460.81 285.49L462.46 288.49L459.16 288.49Z" fill="#3a9a40"/>
<path d="M459.08 288.08L460.73 291.08L457.43 291.08Z" fill="#3a9a40"/>
<path d="M462.49 290.71L464.14 293.71L460.84 293.71Z" fill="#3a9a40"/>
<path d="M461.19 294.27L462.84 297.27L459.54 297.27Z" fill="#3a9a40"/>
<path d="M460.80 268.50V280.40M459.00 268.50H462.60M459.00 280.40H462.60M457.20 274.40H464.40" stroke="#1e1e1e" stroke-width="0.9" fill="none"/>
<path d="M469.08 231.53L470.73 228.53L467.43 228.53Z" fill="#40124e"/>
<path d="M467.30 235.62L468.95 232.62L465.65 232.62Z" fill="#40124e"/>
<path d="M468.08 241.92L469.73 238.92L466.43 238.92Z" fill="#40124e"/>
<path d="M467.33 243.68L468.98 240.68L465.68 240.68Z" fill="#40124e"/>
<path d="M469.97 243.87L471.62 240.87L468.32 240.87Z" fill="#40124e"/>
<path d="M468.32 247.42L469.97 244.42L466.67 244.42Z" fill="#40124e"/>
<path d="M469.74 249.32L471.39 246.32L468.09 246.32Z" fill="#40124e"/>
<path d="M468.25 228.00V238.00M466.45 228.00H470.05M466.45 238.00H470.05M464.65 232.70H471.85" stroke="#1e1e1e" stroke-width="0.9" fill="none"/>
<circle cx="477.32" cy="222.80" r="1.50" fill="#c41862"/>
<circle cx="474.35" cy="222.88" r="1.50" fill="#c41862"/>
<circle cx="475.74" cy="234.45" r="1.50" fill="#c41862"/>
<circle cx="474.17" cy="237.70" r="1.50" fill="#c41862"/>
<circle cx="476.57" cy="239.00" r="1.50" fill="#c41862"/>
<circle cx="475.98" cy="241.79" r="1.50" fill="#c41862"/>
<circle cx="476.78" cy="246.60" r="1.50" fill="#c41862"/>
<path d="M475.70 228.60V242.00M473.90 228.60H477.50M473.90 242.00H477.50M472.10 235.70H479.30" stroke="#1e1e1e" stroke-width="0.9" fill="none"/>
<path d="M484.49 268.67L486.14 271.67L482.84 271.67Z" fill="#d8b030"/>
<path d="M481.93 270.52L483.58 273.52L480.28 273.52Z" fill="#d8b030"/>
<path d="M483.12 273.76L484.77 276.76L481.47 276.76Z" fill="#d8b030"/>
<path d="M481.60 275.26L483.25 278.26L479.95 278.26Z" fill="#d8b030"/>
<path d="M484.79 286.76L486.44 289.76L483.14 289.76Z" fill="#d8b030"/>
<path d="M483.29 287.02L484.94 290.02L481.64 290.02Z" fill="#d8b030"/>
<path d="M484.66 292.87L486.31 295.87L483.01 295.87Z" fill="#d8b030"/>
<path d="M482.26 293.47L483.91 296.47L480.61 296.47Z" fill="#d8b030"/>
<path d="M483.15 278.40V292.00M481.35 278.40H484.95M481.35 292.00H484.95M479.55 285.30H486.75" stroke="#1e1e1e" stroke-width="0.9" fill="none"/>
<rect x="490.52" y="235.20" width="3.00" height="3.00" fill="#0c4838"/>
<rect x="488.29" y="240.76" width="3.00" height="3.00" fill="#0c4838"/>
<rect x="488.57" y="244.77" width="3.00" height="3.00" fill="#0c4838"/>
<rect x="488.00" y="246.68" width="3.00" height="3.00" fill="#0c4838"/>
<rect x="490.64" y="263.22" width="3.00" height="3.00" fill="#0c4838"/>
<rect x="489.33" y="272.90" width="3.00" height="3.00" fill="#0c4838"/>
<path d="M490.60 236.70V253.60M488.80 236.70H492.40M488.80 253.60H492.40M487.00 242.70H494.20" stroke="#1e1e1e" stroke-width="0.9" fill="none"/>
<path d="M499.36 230.75L501.01 232.70L499.36 234.65L497.71 232.70Z" fill="#1c3a58"/>
<path d="M497.12 241.72L498.77 243.67L497.12 245.62L495.47 243.67Z" fill="#1c3a58"/>
<path d="M498.52 248.27L500.17 250.22L498.52 252.17L496.87 250.22Z" fill="#1c3a58"/>
<path d="M497.03 250.22L498.68 252.17L497.03 254.12L495.38 252.17Z" fill="#1c3a58"/>
<path d="M499.93 256.22L501.58 258.17L499.93 260.12L498.28 258.17Z" fill="#1c3a58"/>
<path d="M498.57 268.45L500.22 270.40L498.57 272.35L496.92 270.40Z" fill="#1c3a58"/>
<path d="M498.05 238.70V256.00M496.25 238.70H499.85M496.25 256.00H499.85M494.45 247.60H501.65" stroke="#1e1e1e" stroke-width="0.9" fill="none"/>
<circle cx="506.60" cy="261.50" r="1.50" fill="#202030"/>
<circle cx="504.47" cy="261.88" r="1.50" fill="#202030"/>
<circle cx="506.03" cy="271.30" r="1.50" fill="#202030"/>
<circle cx="504.47" cy="271.51" r="1.50" fill="#202030"/>
<circle cx="506.94" cy="279.37" r="1.50" fill="#202030"/>
<circle cx="505.07" cy="282.60" r="1.50" fill="#202030"/>
<circle cx="506.88" cy="283.30" r="1.50" fill="#202030"/>
<path d="M505.50 266.00V279.00M503.70 266.00H507.30M503.70 279.00H507.30M501.90 272.40H509.10" stroke="#1e1e1e" stroke-width="0.9" fill="none"/>
<circle cx="384.00" cy="334.00" r="1.75" fill="#c0102c"/>
<text x="389.2" y="336.9" font-size="8.3" text-anchor="start" font-weight="normal" fill="#333" >NC</text>
<rect x="382.25" y="339.95" width="3.50" height="3.50" fill="#1a3c80"/>
<text x="389.2" y="344.59999999999997" font-size="8.3" text-anchor="start" font-weight="normal" fill="#333" >Hypoxia</text>
<path d="M430.20 320.89L432.12 324.39L428.27 324.39Z" fill="#3a9a40"/>
<text x="435.4" y="325.79999999999995" font-size="8.3" text-anchor="start" font-weight="normal" fill="#333" >IgG</text>
<path d="M430.20 334.51L432.12 331.01L428.27 331.01Z" fill="#40124e"/>
<text x="435.4" y="335.4" font-size="8.3" text-anchor="start" font-weight="normal" fill="#333" >Tf AB</text>
<circle cx="430.20" cy="341.70" r="1.75" fill="#c41862"/>
<text x="435.4" y="344.59999999999997" font-size="8.3" text-anchor="start" font-weight="normal" fill="#333" >RNR-Tf</text>
<path d="M430.20 349.49L432.12 352.99L428.27 352.99Z" fill="#d8b030"/>
<text x="435.4" y="354.4" font-size="8.3" text-anchor="start" font-weight="normal" fill="#333" >RNR</text>
<rect x="471.45" y="321.15" width="3.50" height="3.50" fill="#0c4838"/>
<text x="478.4" y="325.79999999999995" font-size="8.3" text-anchor="start" font-weight="normal" fill="#333" >LW6</text>
<path d="M473.20 330.23L475.12 332.50L473.20 334.77L471.27 332.50Z" fill="#1c3a58"/>
<text x="478.4" y="335.4" font-size="8.3" text-anchor="start" font-weight="normal" fill="#333" >TH16</text>
<circle cx="473.20" cy="341.70" r="1.75" fill="#202030"/>
<text x="478.4" y="344.59999999999997" font-size="8.3" text-anchor="start" font-weight="normal" fill="#333" >FX18</text>
<path d="M428.3 357.0L497.0 357.0" stroke="#222" stroke-width="1.1"/>
<text x="462.5" y="366.3" font-size="8" text-anchor="middle" font-weight="normal" fill="#333" >Hypoxia</text>
<text x="1.4" y="389.6" font-size="11.4" text-anchor="start" font-weight="bold" fill="#111" >F</text>
<rect x="17.9" y="382.3" width="287.8" height="159.2" fill="none" stroke="#2a2a2a" stroke-width="1.2"/>
<text x="217.6" y="390.8" font-size="8.3" text-anchor="middle" font-weight="normal" fill="#333" >Hypoxia</text>
<path d="M149.0 396.1L286.2 396.1" stroke="#333" stroke-width="1.2"/>
<text x="50.0" y="405.2" font-size="8.3" text-anchor="middle" font-weight="normal" fill="#333" >NC</text>
<text x="104.8" y="405.2" font-size="8.3" text-anchor="middle" font-weight="normal" fill="#333" >Hypoxia</text>
<text x="161.6" y="405.2" font-size="8.3" text-anchor="middle" font-weight="normal" fill="#333" >IgG</text>
<text x="215.3" y="405.2" font-size="8.3" text-anchor="middle" font-weight="normal" fill="#333" >Tf AB</text>
<text x="270.5" y="405.2" font-size="8.3" text-anchor="middle" font-weight="normal" fill="#333" >RNR-Tf</text>
<text x="190.4" y="470.5" font-size="8.3" text-anchor="middle" font-weight="normal" fill="#333" >Hypoxia</text>
<path d="M91.0 474.6L287.1 474.6" stroke="#333" stroke-width="1.2"/>
<text x="108.8" y="483.2" font-size="8.3" text-anchor="middle" font-weight="normal" fill="#333" >RNR</text>
<text x="163.0" y="483.2" font-size="8.3" text-anchor="middle" font-weight="normal" fill="#333" >LW6</text>
<text x="215.0" y="483.2" font-size="8.3" text-anchor="middle" font-weight="normal" fill="#333" >TH16</text>
<text x="268.2" y="483.2" font-size="8.3" text-anchor="middle" font-weight="normal" fill="#333" >FX18</text>
<defs><filter id="hnz" x="0" y="0" width="1" height="1"><feTurbulence type="fractalNoise" baseFrequency="0.28" numOctaves="2" seed="5"/><feColorMatrix type="matrix" values="0 0 0 0 0.97  0 0 0 0 0.85  0 0 0 0 0.92  1.4 0 0 0 -0.62"/></filter></defs>
<g transform="translate(24.3,408.2)"><rect width="47" height="48.5" fill="#f6f1f5"/><g opacity="0.84">
<path d="M0 0L47 0L46 24L40 36L34 48L10 48L4 30L0 14Z" fill="#ecdcec" opacity="0.95" filter="url(#b05)" />
<path d="M33 2L46 2L46 24L40 34L33 32L31 14Z" fill="#e2cce4" opacity="0.95" filter="url(#b05)" />
<path d="M36 6C42 4 45 10 42 16C40 20 36 18 36 14" fill="none" stroke="#b898cc" stroke-width="1.4" opacity="0.8"/>
<ellipse cx="44" cy="8" rx="2.5" ry="4" fill="#a888c0" opacity="0.6" filter="url(#b05)"/>
<path d="M12 4C20 1 28 3 31 10C34 20 33 36 27 45C22 48 14 47 11 42C7 32 7 14 12 4Z" fill="#e690b0" opacity="1" filter="url(#b05)" />
<path d="M13 6C20 3 27 5 29 11C32 20 31 35 26 43C21 46 15 45 12 41C9 32 9 15 13 6Z" fill="#e07a9e" opacity="1" filter="url(#b05)" />
<ellipse cx="20" cy="33" rx="8.5" ry="11" fill="#d9607f" opacity="0.85" filter="url(#b05)"/>
<g filter="url(#b05)"><circle cx="19.4" cy="25.4" r="1.1" fill="#eca8c2" opacity="0.6"/><circle cx="14.0" cy="13.2" r="0.8" fill="#eca8c2" opacity="0.6"/><circle cx="26.3" cy="18.8" r="1.0" fill="#eca8c2" opacity="0.6"/><circle cx="19.8" cy="27.9" r="1.2" fill="#eca8c2" opacity="0.6"/><circle cx="21.9" cy="12.1" r="1.4" fill="#eca8c2" opacity="0.6"/><circle cx="22.7" cy="24.5" r="1.6" fill="#eca8c2" opacity="0.6"/><circle cx="12.2" cy="16.8" r="1.4" fill="#eca8c2" opacity="0.6"/><circle cx="25.4" cy="21.4" r="1.3" fill="#eca8c2" opacity="0.6"/><circle cx="18.6" cy="19.7" r="1.6" fill="#eca8c2" opacity="0.6"/><circle cx="12.3" cy="19.4" r="1.6" fill="#eca8c2" opacity="0.6"/><circle cx="17.3" cy="8.6" r="1.1" fill="#eca8c2" opacity="0.6"/><circle cx="20.7" cy="11.7" r="1.6" fill="#eca8c2" opacity="0.6"/><circle cx="20.8" cy="15.8" r="0.9" fill="#eca8c2" opacity="0.6"/><circle cx="20.6" cy="27.6" r="1.2" fill="#eca8c2" opacity="0.6"/></g>
<ellipse cx="34" cy="45" rx="4" ry="2.2" fill="#9d7cb6" opacity="0.55" filter="url(#b05)"/>
<path d="M0 24L8 44L10 48L0 48Z" fill="#f6f1f5" opacity="1" filter="url(#b05)" />
<rect x="0.8" y="43.2" width="6.6" height="1.5" fill="#e02838"/>
</g><rect width="47" height="48.5" filter="url(#hnz)" opacity="0.5"/></g>
<g transform="translate(80.2,408.2)"><rect width="50.6" height="48.5" fill="#f6f1f5"/><g opacity="0.95">
<path d="M34 2L44 8L50 22L46 42L34 48L40 26Z" fill="#eed0e0" opacity="0.95" filter="url(#b05)" />
<path d="M38 6L46 14L48 28L42 44L40 40L44 26Z" fill="#f8eef4" opacity="0.9" filter="url(#b05)" />
<ellipse cx="21" cy="24.5" rx="21.5" ry="24.5" fill="#e07ca0" opacity="1" filter="url(#b05)"/>
<ellipse cx="21" cy="25" rx="19.5" ry="23" fill="#da6288" opacity="1" filter="url(#b05)"/>
<ellipse cx="22" cy="34" rx="16" ry="12" fill="#d24c74" opacity="0.9" filter="url(#b05)"/>
<g filter="url(#b05)"><circle cx="11.4" cy="10.8" r="1.9" fill="#e88cb0" opacity="0.55"/><circle cx="31.3" cy="14.3" r="2.0" fill="#e88cb0" opacity="0.55"/><circle cx="29.4" cy="19.5" r="2.0" fill="#e88cb0" opacity="0.55"/><circle cx="12.1" cy="8.8" r="1.1" fill="#e88cb0" opacity="0.55"/><circle cx="13.2" cy="19.2" r="1.6" fill="#e88cb0" opacity="0.55"/><circle cx="18.6" cy="17.4" r="1.2" fill="#e88cb0" opacity="0.55"/><circle cx="17.5" cy="29.3" r="1.8" fill="#e88cb0" opacity="0.55"/><circle cx="26.7" cy="27.0" r="1.1" fill="#e88cb0" opacity="0.55"/><circle cx="16.3" cy="15.1" r="1.0" fill="#e88cb0" opacity="0.55"/><circle cx="24.4" cy="14.0" r="1.2" fill="#e88cb0" opacity="0.55"/><circle cx="33.0" cy="16.8" r="1.3" fill="#e88cb0" opacity="0.55"/><circle cx="30.0" cy="15.9" r="1.7" fill="#e88cb0" opacity="0.55"/><circle cx="23.8" cy="29.2" r="1.7" fill="#e88cb0" opacity="0.55"/><circle cx="32.9" cy="15.6" r="1.3" fill="#e88cb0" opacity="0.55"/><circle cx="16.3" cy="21.7" r="1.1" fill="#e88cb0" opacity="0.55"/><circle cx="27.1" cy="20.6" r="1.6" fill="#e88cb0" opacity="0.55"/><circle cx="31.5" cy="18.2" r="1.3" fill="#e88cb0" opacity="0.55"/><circle cx="15.3" cy="28.1" r="1.5" fill="#e88cb0" opacity="0.55"/><circle cx="16.1" cy="25.6" r="1.7" fill="#e88cb0" opacity="0.55"/><circle cx="32.9" cy="22.2" r="1.0" fill="#e88cb0" opacity="0.55"/><circle cx="20.0" cy="7.0" r="1.0" fill="#e88cb0" opacity="0.55"/><circle cx="22.0" cy="10.9" r="1.6" fill="#e88cb0" opacity="0.55"/><circle cx="23.0" cy="18.1" r="1.2" fill="#e88cb0" opacity="0.55"/><circle cx="26.0" cy="16.5" r="1.8" fill="#e88cb0" opacity="0.55"/><circle cx="32.3" cy="13.0" r="1.3" fill="#e88cb0" opacity="0.55"/><circle cx="13.8" cy="24.9" r="1.8" fill="#e88cb0" opacity="0.55"/></g>
<g filter="url(#b05)"><circle cx="26.9" cy="23.3" r="1.1" fill="#c84070" opacity="0.4"/><circle cx="24.0" cy="32.2" r="1.3" fill="#c84070" opacity="0.4"/><circle cx="13.7" cy="33.6" r="1.0" fill="#c84070" opacity="0.4"/><circle cx="24.8" cy="26.8" r="1.4" fill="#c84070" opacity="0.4"/><circle cx="23.0" cy="25.6" r="1.2" fill="#c84070" opacity="0.4"/><circle cx="21.8" cy="28.0" r="1.2" fill="#c84070" opacity="0.4"/><circle cx="26.1" cy="27.2" r="1.4" fill="#c84070" opacity="0.4"/><circle cx="19.7" cy="23.6" r="1.0" fill="#c84070" opacity="0.4"/><circle cx="32.9" cy="36.9" r="1.4" fill="#c84070" opacity="0.4"/><circle cx="20.5" cy="33.0" r="0.9" fill="#c84070" opacity="0.4"/></g>
</g><rect width="50.6" height="48.5" filter="url(#hnz)" opacity="0.5"/></g>
<g transform="translate(136.2,408.2)"><rect width="51.6" height="48.5" fill="#f6f1f5"/><g opacity="0.95">
<path d="M2 14L10 6L22 2L36 0L48 6L52 20L50 34L42 44L26 48L8 44L2 30Z" fill="#dc84a8" opacity="0.95" filter="url(#b05)" />
<path d="M4 16L14 8L26 4L36 6L46 16L49 30L42 43L26 46L10 42L5 30Z" fill="#d4566e" opacity="1" filter="url(#b05)" />
<g filter="url(#b05)"><circle cx="26.6" cy="41.5" r="1.2" fill="#e07496" opacity="0.6"/><circle cx="22.5" cy="21.5" r="1.4" fill="#e07496" opacity="0.6"/><circle cx="32.2" cy="26.0" r="1.9" fill="#e07496" opacity="0.6"/><circle cx="12.3" cy="28.7" r="1.7" fill="#e07496" opacity="0.6"/><circle cx="29.8" cy="39.6" r="1.2" fill="#e07496" opacity="0.6"/><circle cx="24.3" cy="28.3" r="1.4" fill="#e07496" opacity="0.6"/><circle cx="9.7" cy="34.3" r="1.6" fill="#e07496" opacity="0.6"/><circle cx="30.9" cy="31.3" r="2.3" fill="#e07496" opacity="0.6"/><circle cx="37.1" cy="30.9" r="1.6" fill="#e07496" opacity="0.6"/><circle cx="18.4" cy="18.1" r="2.0" fill="#e07496" opacity="0.6"/><circle cx="9.5" cy="26.2" r="2.2" fill="#e07496" opacity="0.6"/><circle cx="18.1" cy="23.0" r="1.2" fill="#e07496" opacity="0.6"/><circle cx="35.9" cy="22.3" r="1.3" fill="#e07496" opacity="0.6"/><circle cx="36.9" cy="21.9" r="2.0" fill="#e07496" opacity="0.6"/><circle cx="31.1" cy="20.2" r="1.5" fill="#e07496" opacity="0.6"/><circle cx="28.8" cy="21.9" r="2.0" fill="#e07496" opacity="0.6"/><circle cx="36.2" cy="33.7" r="2.0" fill="#e07496" opacity="0.6"/><circle cx="39.7" cy="21.5" r="1.7" fill="#e07496" opacity="0.6"/><circle cx="26.3" cy="31.9" r="1.7" fill="#e07496" opacity="0.6"/><circle cx="19.2" cy="25.7" r="2.2" fill="#e07496" opacity="0.6"/><circle cx="8.9" cy="25.4" r="1.4" fill="#e07496" opacity="0.6"/><circle cx="24.1" cy="27.7" r="1.5" fill="#e07496" opacity="0.6"/><circle cx="22.8" cy="36.4" r="1.6" fill="#e07496" opacity="0.6"/><circle cx="32.6" cy="13.0" r="1.3" fill="#e07496" opacity="0.6"/><circle cx="18.2" cy="30.0" r="1.9" fill="#e07496" opacity="0.6"/><circle cx="32.0" cy="24.9" r="2.0" fill="#e07496" opacity="0.6"/></g>
<path d="M20 22L24 19L30 20L33 25L32 32L28 37L22 37L19 32L18 26Z" fill="none" stroke="#f8dce6" stroke-width="1.1" filter="url(#b03)"/>
<ellipse cx="26" cy="28" rx="5" ry="6" fill="#e05a6a" opacity="0.9" filter="url(#b05)"/>
<path d="M24 4L34 3L42 10L46 18" fill="none" stroke="#f8e4ec" stroke-width="1" filter="url(#b03)"/>
<path d="M30 0L52 0L52 14L44 6Z" fill="#f6f1f5" opacity="0.95" filter="url(#b05)" />
<path d="M0 0L16 0L6 10L0 14Z" fill="#f6f1f5" opacity="1" filter="url(#b05)" />
<path d="M0 14L4 16L4 30L0 32Z" fill="#c8a0d0" opacity="0.7" filter="url(#b05)" />
</g><rect width="51.6" height="48.5" filter="url(#hnz)" opacity="0.5"/></g>
<g transform="translate(191.2,408.2)"><rect width="49" height="48.5" fill="#f6f1f5"/><g opacity="0.84">
<path d="M20 20L32 14L40 20L38 36L32 46L24 44L20 32Z" fill="#e8b4cc" opacity="0.95" filter="url(#b05)" />
<path d="M22 22L32 17L37 22L35 36L30 44L25 42L22 32Z" fill="#da5a84" opacity="1" filter="url(#b05)" />
<g filter="url(#b05)"><circle cx="25.4" cy="31.4" r="0.8" fill="#ea8ab0" opacity="0.6"/><circle cx="29.3" cy="29.4" r="1.1" fill="#ea8ab0" opacity="0.6"/><circle cx="30.4" cy="28.3" r="1.2" fill="#ea8ab0" opacity="0.6"/><circle cx="28.1" cy="28.6" r="1.0" fill="#ea8ab0" opacity="0.6"/><circle cx="27.8" cy="23.6" r="1.3" fill="#ea8ab0" opacity="0.6"/><circle cx="30.6" cy="34.1" r="0.8" fill="#ea8ab0" opacity="0.6"/><circle cx="23.2" cy="29.6" r="1.2" fill="#ea8ab0" opacity="0.6"/><circle cx="29.6" cy="23.9" r="1.3" fill="#ea8ab0" opacity="0.6"/><circle cx="31.6" cy="33.2" r="1.3" fill="#ea8ab0" opacity="0.6"/><circle cx="28.4" cy="23.6" r="0.8" fill="#ea8ab0" opacity="0.6"/></g>
<ellipse cx="9" cy="6" rx="6" ry="3.5" fill="none" stroke="#cfb0d4" stroke-width="1.4" opacity="1"/>
<ellipse cx="21" cy="14" rx="5" ry="5" fill="none" stroke="#d8a0c4" stroke-width="1.6" opacity="1"/>
<ellipse cx="7" cy="26" rx="4.5" ry="4" fill="none" stroke="#cbb0d6" stroke-width="1.6" opacity="1"/>
<ellipse cx="13" cy="32" rx="4" ry="4" fill="none" stroke="#d4b0d6" stroke-width="1.4" opacity="0.8"/>
<path d="M26 10L36 8L42 14L38 18L30 14Z" fill="#ecc4d8" opacity="0.9" filter="url(#b05)" />
</g><rect width="49" height="48.5" filter="url(#hnz)" opacity="0.5"/></g>
<g transform="translate(249.6,408.2)"><rect width="48.4" height="48.5" fill="#f6f1f5"/><g opacity="0.84">
<path d="M4 10L20 6L36 2L46 8L44 30L40 46L20 48L4 44Z" fill="#f6eaf2" opacity="0.9" filter="url(#b05)" />
<path d="M4 10L20 6L36 2L46 8L44 30L40 46L20 48L4 44Z" fill="none" stroke="#e8b8d0" stroke-width="1"/>
<path d="M5 14L14 10L24 20L27 34L22 46L8 46L5 30Z" fill="#e7a0be" opacity="1" filter="url(#b05)" />
<path d="M7 16L14 13L22 22L24 34L20 44L10 44L7 30Z" fill="#e8a8c4" opacity="1" filter="url(#b05)" />
<ellipse cx="27" cy="11" rx="5" ry="6" fill="none" stroke="#dc7aa4" stroke-width="2" opacity="1"/>
<ellipse cx="27" cy="11" rx="3" ry="4" fill="#eebcd2" opacity="1" filter="url(#b05)"/>
<path d="M26 18L30 30L28 44M32 16L38 28L36 42" fill="none" stroke="#e8c0d6" stroke-width="0.9"/>
</g><rect width="48.4" height="48.5" filter="url(#hnz)" opacity="0.5"/></g>
<g transform="translate(80.2,484.8)"><rect width="51.6" height="49" fill="#f6f1f5"/><g opacity="0.84">
<path d="M0 4L40 0L42 24L40 48L0 48Z" fill="#d8b8d8" opacity="0.9" filter="url(#b05)" />
<path d="M4 4L40 2L41 24L38 46L6 47L3 24Z" fill="#e494b4" opacity="1" filter="url(#b05)" />
<g filter="url(#b05)"><circle cx="10.6" cy="28.4" r="2.2" fill="#eaa8c4" opacity="0.55"/><circle cx="10.9" cy="27.1" r="1.8" fill="#eaa8c4" opacity="0.55"/><circle cx="26.6" cy="37.1" r="1.9" fill="#eaa8c4" opacity="0.55"/><circle cx="23.3" cy="18.1" r="1.5" fill="#eaa8c4" opacity="0.55"/><circle cx="34.1" cy="33.7" r="2.0" fill="#eaa8c4" opacity="0.55"/><circle cx="37.3" cy="29.2" r="2.3" fill="#eaa8c4" opacity="0.55"/><circle cx="14.9" cy="11.1" r="1.3" fill="#eaa8c4" opacity="0.55"/><circle cx="33.6" cy="25.4" r="1.2" fill="#eaa8c4" opacity="0.55"/><circle cx="24.9" cy="33.2" r="1.1" fill="#eaa8c4" opacity="0.55"/><circle cx="11.7" cy="27.0" r="2.1" fill="#eaa8c4" opacity="0.55"/><circle cx="9.3" cy="22.1" r="1.7" fill="#eaa8c4" opacity="0.55"/><circle cx="16.3" cy="12.5" r="1.4" fill="#eaa8c4" opacity="0.55"/><circle cx="38.0" cy="23.7" r="2.1" fill="#eaa8c4" opacity="0.55"/><circle cx="19.6" cy="13.2" r="1.4" fill="#eaa8c4" opacity="0.55"/><circle cx="21.0" cy="29.1" r="2.0" fill="#eaa8c4" opacity="0.55"/><circle cx="10.1" cy="34.8" r="1.6" fill="#eaa8c4" opacity="0.55"/><circle cx="36.2" cy="19.2" r="1.1" fill="#eaa8c4" opacity="0.55"/><circle cx="25.8" cy="42.5" r="1.7" fill="#eaa8c4" opacity="0.55"/><circle cx="32.0" cy="22.4" r="1.2" fill="#eaa8c4" opacity="0.55"/><circle cx="12.3" cy="11.2" r="1.4" fill="#eaa8c4" opacity="0.55"/><circle cx="29.9" cy="30.0" r="2.3" fill="#eaa8c4" opacity="0.55"/><circle cx="22.3" cy="17.1" r="1.4" fill="#eaa8c4" opacity="0.55"/><circle cx="25.2" cy="26.9" r="2.1" fill="#eaa8c4" opacity="0.55"/><circle cx="27.3" cy="37.4" r="1.6" fill="#eaa8c4" opacity="0.55"/><circle cx="27.0" cy="39.9" r="1.2" fill="#eaa8c4" opacity="0.55"/><circle cx="18.6" cy="18.6" r="1.6" fill="#eaa8c4" opacity="0.55"/><circle cx="23.9" cy="34.1" r="2.3" fill="#eaa8c4" opacity="0.55"/><circle cx="24.9" cy="13.6" r="2.2" fill="#eaa8c4" opacity="0.55"/><circle cx="24.5" cy="36.2" r="2.2" fill="#eaa8c4" opacity="0.55"/><circle cx="18.8" cy="19.1" r="2.3" fill="#eaa8c4" opacity="0.55"/><circle cx="23.9" cy="33.9" r="2.1" fill="#eaa8c4" opacity="0.55"/><circle cx="17.9" cy="33.6" r="1.2" fill="#eaa8c4" opacity="0.55"/><circle cx="32.3" cy="32.2" r="1.4" fill="#eaa8c4" opacity="0.55"/><circle cx="14.2" cy="16.8" r="1.7" fill="#eaa8c4" opacity="0.55"/></g>
<g filter="url(#b05)"><circle cx="10.8" cy="31.8" r="1.4" fill="#d8648c" opacity="0.45"/><circle cx="22.9" cy="31.1" r="1.1" fill="#d8648c" opacity="0.45"/><circle cx="20.1" cy="42.5" r="1.4" fill="#d8648c" opacity="0.45"/><circle cx="13.6" cy="23.8" r="1.4" fill="#d8648c" opacity="0.45"/><circle cx="27.7" cy="37.3" r="0.9" fill="#d8648c" opacity="0.45"/><circle cx="24.8" cy="28.1" r="1.5" fill="#d8648c" opacity="0.45"/><circle cx="32.4" cy="35.2" r="1.1" fill="#d8648c" opacity="0.45"/><circle cx="11.4" cy="37.2" r="0.8" fill="#d8648c" opacity="0.45"/><circle cx="34.4" cy="35.0" r="1.2" fill="#d8648c" opacity="0.45"/><circle cx="33.7" cy="37.5" r="1.6" fill="#d8648c" opacity="0.45"/><circle cx="28.9" cy="35.9" r="0.9" fill="#d8648c" opacity="0.45"/><circle cx="17.8" cy="40.2" r="0.9" fill="#d8648c" opacity="0.45"/><circle cx="21.0" cy="27.0" r="0.9" fill="#d8648c" opacity="0.45"/><circle cx="25.6" cy="21.9" r="1.2" fill="#d8648c" opacity="0.45"/></g>
<ellipse cx="22" cy="46" rx="12" ry="2" fill="#d85080" opacity="0.8" filter="url(#b05)"/>
<path d="M0 30L4 28L6 46L0 48Z" fill="#9d80b8" opacity="0.7" filter="url(#b05)" />
<ellipse cx="46" cy="24" rx="4" ry="4" fill="#e07aa0" opacity="1" filter="url(#b05)"/>
</g><rect width="51.6" height="49" filter="url(#hnz)" opacity="0.5"/></g>
<g transform="translate(136.2,484.8)"><rect width="50" height="49" fill="#f6f1f5"/><g opacity="0.84">
<ellipse cx="9" cy="6" rx="3.5" ry="3" fill="none" stroke="#c8a8d0" stroke-width="1.2" opacity="1"/>
<ellipse cx="17" cy="4" rx="4" ry="3.5" fill="none" stroke="#d0a8d0" stroke-width="1.4" opacity="1"/>
<ellipse cx="5" cy="14" rx="2.5" ry="2.5" fill="none" stroke="#c8b0d6" stroke-width="1.0" opacity="1"/>
<ellipse cx="29" cy="26" rx="17" ry="21" fill="#ecc0d6" opacity="1" filter="url(#b05)"/>
<ellipse cx="29" cy="26" rx="15" ry="19" fill="#f8eaf0" opacity="1" filter="url(#b05)"/>
<ellipse cx="29" cy="26" rx="13.5" ry="17.5" fill="#e27ca2" opacity="1" filter="url(#b05)"/>
<g filter="url(#b05)"><circle cx="28.5" cy="38.4" r="1.7" fill="#d8608a" opacity="0.6"/><circle cx="31.8" cy="20.8" r="1.2" fill="#d8608a" opacity="0.6"/><circle cx="32.1" cy="31.7" r="1.8" fill="#d8608a" opacity="0.6"/><circle cx="34.5" cy="34.0" r="1.2" fill="#d8608a" opacity="0.6"/><circle cx="27.0" cy="35.5" r="1.9" fill="#d8608a" opacity="0.6"/><circle cx="28.0" cy="24.9" r="1.3" fill="#d8608a" opacity="0.6"/><circle cx="35.2" cy="37.2" r="1.9" fill="#d8608a" opacity="0.6"/><circle cx="32.4" cy="13.2" r="1.8" fill="#d8608a" opacity="0.6"/><circle cx="38.3" cy="21.8" r="1.2" fill="#d8608a" opacity="0.6"/><circle cx="33.5" cy="17.5" r="1.8" fill="#d8608a" opacity="0.6"/><circle cx="22.4" cy="22.1" r="1.4" fill="#d8608a" opacity="0.6"/><circle cx="23.4" cy="29.6" r="1.1" fill="#d8608a" opacity="0.6"/><circle cx="33.2" cy="13.9" r="2.1" fill="#d8608a" opacity="0.6"/><circle cx="26.0" cy="15.6" r="1.8" fill="#d8608a" opacity="0.6"/><circle cx="35.0" cy="35.2" r="1.5" fill="#d8608a" opacity="0.6"/><circle cx="31.2" cy="32.0" r="1.5" fill="#d8608a" opacity="0.6"/><circle cx="28.8" cy="36.2" r="1.6" fill="#d8608a" opacity="0.6"/><circle cx="25.8" cy="29.3" r="1.5" fill="#d8608a" opacity="0.6"/><circle cx="29.5" cy="33.3" r="1.2" fill="#d8608a" opacity="0.6"/><circle cx="27.0" cy="29.0" r="1.7" fill="#d8608a" opacity="0.6"/></g>
</g><rect width="50" height="49" filter="url(#hnz)" opacity="0.5"/></g>
<g transform="translate(192.4,484.8)"><rect width="45.6" height="49" fill="#f6f1f5"/><g opacity="0.84">
<ellipse cx="24" cy="26" rx="19" ry="20" fill="#f6ecf2" opacity="1" filter="url(#b05)"/>
<ellipse cx="24" cy="26" rx="19" ry="20" fill="none" stroke="#dcc0da" stroke-width="1.0" opacity="1"/>
<ellipse cx="23" cy="27" rx="15" ry="16" fill="none" stroke="#ead4e4" stroke-width="1.6" opacity="1"/>
<ellipse cx="17" cy="23" rx="6.5" ry="7" fill="#eab4cc" opacity="1" filter="url(#b05)"/>
<ellipse cx="17" cy="23" rx="4.5" ry="5" fill="#faf4f8" opacity="1" filter="url(#b05)"/>
<ellipse cx="31" cy="32" rx="9.5" ry="9.5" fill="#f2d0e0" opacity="1" filter="url(#b05)"/>
<ellipse cx="31" cy="33" rx="8" ry="8" fill="#d8587e" opacity="1" filter="url(#b05)"/>
<ellipse cx="41" cy="13" rx="4" ry="7" fill="#dc6a92" opacity="1" filter="url(#b05)"/>
<path d="M12 4L34 1L38 8L22 11Z" fill="#dcb0d0" opacity="0.8" filter="url(#b05)" />
<g filter="url(#b05)"><circle cx="30.2" cy="10.9" r="1.0" fill="#c890c0" opacity="0.6"/><circle cx="21.4" cy="8.2" r="1.2" fill="#c890c0" opacity="0.6"/><circle cx="28.5" cy="5.3" r="1.0" fill="#c890c0" opacity="0.6"/><circle cx="26.0" cy="8.2" r="0.9" fill="#c890c0" opacity="0.6"/><circle cx="23.7" cy="7.5" r="1.2" fill="#c890c0" opacity="0.6"/><circle cx="26.5" cy="9.9" r="0.6" fill="#c890c0" opacity="0.6"/><circle cx="34.6" cy="7.9" r="1.2" fill="#c890c0" opacity="0.6"/><circle cx="24.6" cy="7.5" r="0.8" fill="#c890c0" opacity="0.6"/></g>
</g><rect width="45.6" height="49" filter="url(#hnz)" opacity="0.5"/></g>
<g transform="translate(248.4,484.8)"><rect width="49.6" height="49" fill="#f6f1f5"/><g opacity="0.84">
<path d="M10 8L38 6L46 20L44 40L22 47L8 42Z" fill="#f4e6ee" opacity="0.95" filter="url(#b05)" />
<path d="M10 8L38 6L46 20L44 40L22 47L8 42Z" fill="none" stroke="#e4bcd4" stroke-width="0.9"/>
<path d="M3 6L16 4L18 24L16 36L5 38L2 20Z" fill="#da5a88" opacity="1" filter="url(#b05)" />
<ellipse cx="26" cy="9" rx="6" ry="5" fill="#dc6a90" opacity="1" filter="url(#b05)"/>
<ellipse cx="27" cy="27" rx="8" ry="10" fill="none" stroke="#e0a0c0" stroke-width="1.6" opacity="1"/>
<ellipse cx="27" cy="27" rx="4" ry="6" fill="none" stroke="#e4b0cc" stroke-width="1.2" opacity="1"/>
<ellipse cx="18" cy="36" rx="4" ry="5" fill="#e294b6" opacity="1" filter="url(#b05)"/>
<path d="M34 14L40 24L38 38" fill="none" stroke="#e6b8d0" stroke-width="1"/>
</g><rect width="49.6" height="49" filter="url(#hnz)" opacity="0.5"/></g>
<text x="325.0" y="389.5" font-size="11.4" text-anchor="start" font-weight="bold" fill="#111" >G</text>
<path d="M368.5 411.5L368.5 507.3" stroke="#333" stroke-width="1.4"/>
<path d="M367.8 506.6L511.1 506.6" stroke="#333" stroke-width="1.4"/>
<path d="M365.0 506.6L368.5 506.6" stroke="#333" stroke-width="1"/>
<text x="363.2" y="509.5" font-size="8" text-anchor="end" font-weight="normal" fill="#333" >0.0</text>
<path d="M365.0 483.25L368.5 483.25" stroke="#333" stroke-width="1"/>
<text x="363.2" y="486.15" font-size="8" text-anchor="end" font-weight="normal" fill="#333" >0.5</text>
<path d="M365.0 459.90000000000003L368.5 459.90000000000003" stroke="#333" stroke-width="1"/>
<text x="363.2" y="462.8" font-size="8" text-anchor="end" font-weight="normal" fill="#333" >1.0</text>
<path d="M365.0 436.55L368.5 436.55" stroke="#333" stroke-width="1"/>
<text x="363.2" y="439.45" font-size="8" text-anchor="end" font-weight="normal" fill="#333" >1.5</text>
<path d="M365.0 413.20000000000005L368.5 413.20000000000005" stroke="#333" stroke-width="1"/>
<text x="363.2" y="416.1" font-size="8" text-anchor="end" font-weight="normal" fill="#333" >2.0</text>
<path d="M376.0 506.6L376.0 509.6" stroke="#333" stroke-width="1"/>
<path d="M391.87 506.6L391.87 509.6" stroke="#333" stroke-width="1"/>
<path d="M407.74 506.6L407.74 509.6" stroke="#333" stroke-width="1"/>
<path d="M423.61 506.6L423.61 509.6" stroke="#333" stroke-width="1"/>
<path d="M439.48 506.6L439.48 509.6" stroke="#333" stroke-width="1"/>
<path d="M455.35 506.6L455.35 509.6" stroke="#333" stroke-width="1"/>
<path d="M471.22 506.6L471.22 509.6" stroke="#333" stroke-width="1"/>
<path d="M487.09 506.6L487.09 509.6" stroke="#333" stroke-width="1"/>
<path d="M502.96 506.6L502.96 509.6" stroke="#333" stroke-width="1"/>
<text transform="translate(378.00,518.20) rotate(-45)" font-size="7.8" text-anchor="end" fill="#333">NC</text>
<text transform="translate(393.87,518.20) rotate(-45)" font-size="7.8" text-anchor="end" fill="#333">Hypoxia</text>
<text transform="translate(409.74,518.20) rotate(-45)" font-size="7.8" text-anchor="end" fill="#333">IgG</text>
<text transform="translate(425.61,518.20) rotate(-45)" font-size="7.8" text-anchor="end" fill="#333">Tf AB</text>
<text transform="translate(441.48,518.20) rotate(-45)" font-size="7.8" text-anchor="end" fill="#333">RNR-Tf</text>
<text transform="translate(457.35,518.20) rotate(-45)" font-size="7.8" text-anchor="end" fill="#333">RNR</text>
<text transform="translate(473.22,518.20) rotate(-45)" font-size="7.8" text-anchor="end" fill="#333">LW6</text>
<text transform="translate(489.09,518.20) rotate(-45)" font-size="7.8" text-anchor="end" fill="#333">TH16</text>
<text transform="translate(504.96,518.20) rotate(-45)" font-size="7.8" text-anchor="end" fill="#333">FX18</text>
<text transform="translate(343.6,459.7) rotate(-90)" font-size="9.8" text-anchor="middle" fill="#444" textLength="100" lengthAdjust="spacingAndGlyphs">Thrombosed IVC weight (mg)</text>
<path d="M395.0 403.4L498.6 403.4" stroke="#4a4a4a" stroke-width="1.3"/>
<text x="447" y="403.09999999999997" font-size="8" text-anchor="middle" fill="#222" letter-spacing="0.6">*</text>
<path d="M395.0 411.0L486.7 411.0" stroke="#4a4a4a" stroke-width="1.3"/>
<text x="440.3" y="410.7" font-size="8" text-anchor="middle" fill="#222" letter-spacing="0.6">*</text>
<path d="M395.0 418.5L470.8 418.5" stroke="#4a4a4a" stroke-width="1.3"/>
<text x="432.8" y="418.2" font-size="8" text-anchor="middle" fill="#222" letter-spacing="0.6">*</text>
<path d="M377.7 426.5L391.5 426.5" stroke="#4a4a4a" stroke-width="1.3"/>
<text x="384.6" y="426.2" font-size="8" text-anchor="middle" fill="#222" letter-spacing="0.6">*</text>
<path d="M406.1 427.2L420.8 427.2" stroke="#4a4a4a" stroke-width="1.3"/>
<text x="413.45000000000005" y="426.9" font-size="8" text-anchor="middle" fill="#222" letter-spacing="0.6">*</text>
<path d="M440.3 427.8L452.8 427.8" stroke="#4a4a4a" stroke-width="1.3"/>
<text x="446.55" y="427.5" font-size="8" text-anchor="middle" fill="#222" letter-spacing="0.6">**</text>
<circle cx="378.35" cy="460.50" r="1.95" fill="#c0102c"/>
<circle cx="374.69" cy="464.54" r="1.95" fill="#c0102c"/>
<circle cx="376.48" cy="476.02" r="1.95" fill="#c0102c"/>
<circle cx="374.13" cy="485.52" r="1.95" fill="#c0102c"/>
<circle cx="376.85" cy="487.55" r="1.95" fill="#c0102c"/>
<circle cx="375.40" cy="489.56" r="1.95" fill="#c0102c"/>
<circle cx="377.88" cy="491.00" r="1.95" fill="#c0102c"/>
<path d="M376.00 466.30V489.40M373.40 466.30H378.60M373.40 489.40H378.60M371.20 477.70H380.80" stroke="#1e1e1e" stroke-width="1.2" fill="none"/>
<rect x="392.57" y="438.05" width="3.90" height="3.90" fill="#1a3c80"/>
<rect x="389.12" y="443.96" width="3.90" height="3.90" fill="#1a3c80"/>
<rect x="390.22" y="450.73" width="3.90" height="3.90" fill="#1a3c80"/>
<rect x="387.27" y="451.33" width="3.90" height="3.90" fill="#1a3c80"/>
<rect x="390.98" y="452.50" width="3.90" height="3.90" fill="#1a3c80"/>
<rect x="390.43" y="456.98" width="3.90" height="3.90" fill="#1a3c80"/>
<rect x="392.29" y="480.05" width="3.90" height="3.90" fill="#1a3c80"/>
<path d="M391.87 441.90V471.50M389.27 441.90H394.47M389.27 471.50H394.47M387.07 456.70H396.67" stroke="#1e1e1e" stroke-width="1.2" fill="none"/>
<path d="M410.74 437.76L412.88 441.66L408.59 441.66Z" fill="#3a9a40"/>
<path d="M405.64 447.90L407.79 451.80L403.50 451.80Z" fill="#3a9a40"/>
<path d="M407.57 450.79L409.72 454.69L405.43 454.69Z" fill="#3a9a40"/>
<path d="M406.00 451.51L408.14 455.41L403.85 455.41Z" fill="#3a9a40"/>
<path d="M409.15 469.31L411.29 473.21L407.00 473.21Z" fill="#3a9a40"/>
<path d="M407.20 472.76L409.34 476.66L405.05 476.66Z" fill="#3a9a40"/>
<path d="M407.74 445.10V470.50M405.14 445.10H410.34M405.14 470.50H410.34M402.94 458.10H412.54" stroke="#1e1e1e" stroke-width="1.2" fill="none"/>
<path d="M424.96 464.24L427.10 460.34L422.81 460.34Z" fill="#40124e"/>
<path d="M422.23 466.79L424.37 462.89L420.08 462.89Z" fill="#40124e"/>
<path d="M423.62 471.38L425.77 467.48L421.48 467.48Z" fill="#40124e"/>
<path d="M422.39 485.11L424.54 481.21L420.25 481.21Z" fill="#40124e"/>
<path d="M425.23 487.63L427.38 483.73L423.09 483.73Z" fill="#40124e"/>
<path d="M424.16 489.24L426.30 485.34L422.01 485.34Z" fill="#40124e"/>
<path d="M423.61 468.00V485.60M421.01 468.00H426.21M421.01 485.60H426.21M418.81 477.20H428.41" stroke="#1e1e1e" stroke-width="1.2" fill="none"/>
<circle cx="442.35" cy="470.00" r="1.95" fill="#c41862"/>
<circle cx="437.47" cy="482.62" r="1.95" fill="#c41862"/>
<circle cx="439.74" cy="486.24" r="1.95" fill="#c41862"/>
<circle cx="438.57" cy="487.69" r="1.95" fill="#c41862"/>
<circle cx="441.89" cy="488.27" r="1.95" fill="#c41862"/>
<circle cx="439.42" cy="490.00" r="1.95" fill="#c41862"/>
<path d="M439.48 470.80V488.30M436.88 470.80H442.08M436.88 488.30H442.08M434.68 479.20H444.28" stroke="#1e1e1e" stroke-width="1.2" fill="none"/>
<path d="M456.43 435.76L458.58 439.66L454.29 439.66Z" fill="#d8b030"/>
<path d="M453.51 437.62L455.66 441.52L451.37 441.52Z" fill="#d8b030"/>
<path d="M455.16 446.63L457.31 450.53L453.02 450.53Z" fill="#d8b030"/>
<path d="M453.89 460.25L456.04 464.15L451.75 464.15Z" fill="#d8b030"/>
<path d="M457.78 464.36L459.92 468.26L455.63 468.26Z" fill="#d8b030"/>
<path d="M455.92 470.98L458.07 474.88L453.78 474.88Z" fill="#d8b030"/>
<path d="M456.72 473.76L458.87 477.66L454.58 477.66Z" fill="#d8b030"/>
<path d="M455.35 443.00V468.00M452.75 443.00H457.95M452.75 468.00H457.95M450.55 455.00H460.15" stroke="#1e1e1e" stroke-width="1.2" fill="none"/>
<rect x="470.43" y="456.05" width="3.90" height="3.90" fill="#0c4838"/>
<rect x="468.01" y="461.07" width="3.90" height="3.90" fill="#0c4838"/>
<rect x="469.76" y="465.08" width="3.90" height="3.90" fill="#0c4838"/>
<rect x="467.38" y="467.88" width="3.90" height="3.90" fill="#0c4838"/>
<rect x="470.55" y="472.77" width="3.90" height="3.90" fill="#0c4838"/>
<rect x="469.76" y="475.73" width="3.90" height="3.90" fill="#0c4838"/>
<rect x="472.26" y="486.05" width="3.90" height="3.90" fill="#0c4838"/>
<path d="M471.22 459.70V485.60M468.62 459.70H473.82M468.62 485.60H473.82M466.42 472.80H476.02" stroke="#1e1e1e" stroke-width="1.2" fill="none"/>
<path d="M488.64 451.46L490.79 454.00L488.64 456.54L486.50 454.00Z" fill="#1c3a58"/>
<path d="M486.09 454.55L488.23 457.08L486.09 459.62L483.94 457.08Z" fill="#1c3a58"/>
<path d="M486.78 456.21L488.92 458.75L486.78 461.28L484.63 458.75Z" fill="#1c3a58"/>
<path d="M485.72 458.01L487.87 460.54L485.72 463.08L483.58 460.54Z" fill="#1c3a58"/>
<path d="M489.14 466.76L491.29 469.30L489.14 471.83L487.00 469.30Z" fill="#1c3a58"/>
<path d="M487.55 485.46L489.70 488.00L487.55 490.54L485.41 488.00Z" fill="#1c3a58"/>
<path d="M487.09 463.30V486.70M484.49 463.30H489.69M484.49 486.70H489.69M482.29 475.60H491.89" stroke="#1e1e1e" stroke-width="1.2" fill="none"/>
<circle cx="504.50" cy="454.00" r="1.95" fill="#202030"/>
<circle cx="502.02" cy="467.19" r="1.95" fill="#202030"/>
<circle cx="502.69" cy="468.45" r="1.95" fill="#202030"/>
<circle cx="500.03" cy="468.49" r="1.95" fill="#202030"/>
<circle cx="504.04" cy="472.35" r="1.95" fill="#202030"/>
<circle cx="502.96" cy="480.24" r="1.95" fill="#202030"/>
<circle cx="505.15" cy="489.00" r="1.95" fill="#202030"/>
<path d="M502.96 461.10V486.10M500.36 461.10H505.56M500.36 486.10H505.56M498.16 473.60H507.76" stroke="#1e1e1e" stroke-width="1.2" fill="none"/>
<path d="M408.9 541.5L504.2 541.5" stroke="#222" stroke-width="1.1"/>
<text x="469.4" y="551.4" font-size="8" text-anchor="middle" font-weight="normal" fill="#333" >Hypoxia</text>
</svg>
</body></html>
